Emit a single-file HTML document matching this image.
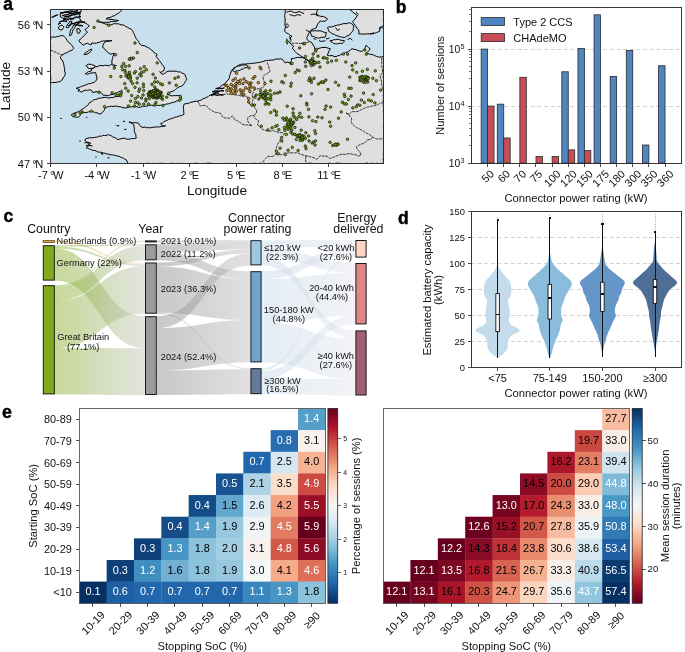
<!DOCTYPE html>
<html><head><meta charset="utf-8"><style>
html,body{margin:0;padding:0;background:#fff;width:685px;height:652px;overflow:hidden}
svg{display:block;will-change:transform}
text{font-family:"Liberation Sans", sans-serif}
line{shape-rendering:crispEdges}
.fr{shape-rendering:crispEdges}
</style></head><body>
<svg width="685" height="652" viewBox="0 0 685 652" font-family='"Liberation Sans", sans-serif'>
<defs>
<linearGradient id="gcy" x1="0" y1="0" x2="1" y2="0"><stop offset="0" stop-color="#7eaa1a"/><stop offset="1" stop-color="#c1c3ba"/></linearGradient>
<linearGradient id="gcyo" x1="0" y1="0" x2="1" y2="0"><stop offset="0" stop-color="#e0a030"/><stop offset="1" stop-color="#efe0c0"/></linearGradient>
<linearGradient id="gyc" x1="0" y1="0" x2="1" y2="0"><stop offset="0" stop-color="#858585"/><stop offset="1" stop-color="#bcbcbc"/></linearGradient>
<linearGradient id="gce" x1="0" y1="0" x2="1" y2="0"><stop offset="0" stop-color="#c3d7e9"/><stop offset="1" stop-color="#e2e4e9"/></linearGradient>
<linearGradient id="cb1" x1="0" y1="0" x2="0" y2="1"><stop offset="0" stop-color="#67001f"/><stop offset="0.05" stop-color="#8a0b25"/><stop offset="0.1" stop-color="#b1182b"/><stop offset="0.15" stop-color="#c43b3c"/><stop offset="0.2" stop-color="#d6604d"/><stop offset="0.25" stop-color="#e48066"/><stop offset="0.3" stop-color="#f3a481"/><stop offset="0.35" stop-color="#f8bfa4"/><stop offset="0.4" stop-color="#fddbc7"/><stop offset="0.45" stop-color="#fae9df"/><stop offset="0.5" stop-color="#f7f6f6"/><stop offset="0.55" stop-color="#e4eef4"/><stop offset="0.6" stop-color="#d1e5f0"/><stop offset="0.65" stop-color="#b1d5e7"/><stop offset="0.7" stop-color="#90c4dd"/><stop offset="0.75" stop-color="#6bacd1"/><stop offset="0.8" stop-color="#4393c3"/><stop offset="0.85" stop-color="#327cb7"/><stop offset="0.9" stop-color="#2065ab"/><stop offset="0.95" stop-color="#124984"/><stop offset="1" stop-color="#053061"/></linearGradient>
<linearGradient id="cb2" x1="0" y1="0" x2="0" y2="1"><stop offset="0" stop-color="#053061"/><stop offset="0.05" stop-color="#124984"/><stop offset="0.1" stop-color="#2065ab"/><stop offset="0.15" stop-color="#327cb7"/><stop offset="0.2" stop-color="#4393c3"/><stop offset="0.25" stop-color="#68abd0"/><stop offset="0.3" stop-color="#90c4dd"/><stop offset="0.35" stop-color="#b1d5e7"/><stop offset="0.4" stop-color="#d1e5f0"/><stop offset="0.45" stop-color="#e4eef4"/><stop offset="0.5" stop-color="#f6f7f7"/><stop offset="0.55" stop-color="#fae9df"/><stop offset="0.6" stop-color="#fddbc7"/><stop offset="0.65" stop-color="#f8bfa4"/><stop offset="0.7" stop-color="#f3a481"/><stop offset="0.75" stop-color="#e58368"/><stop offset="0.8" stop-color="#d6604d"/><stop offset="0.85" stop-color="#c43b3c"/><stop offset="0.9" stop-color="#b1182b"/><stop offset="0.95" stop-color="#8a0b25"/><stop offset="1" stop-color="#67001f"/></linearGradient>
</defs>
<rect width="685" height="652" fill="#fff"/>
<clipPath id="mapclip"><rect x="50.4" y="9.2" width="333.2" height="154.4"/></clipPath>
<g clip-path="url(#mapclip)">
<rect x="50.4" y="9.2" width="333.2" height="154.4" fill="#c8dfee"/>
<path d="M81.5,9.2 L83.12,9.16 L84.74,9.25 L86.36,9.58 L87.98,9.17 L89.6,9.21 L91.22,9.28 L92.84,8.92 L94.46,9.21 L96.08,9.32 L97.7,9.46 L99.32,8.83 L100.94,9.02 L102.56,8.83 L104.18,9.48 L105.8,9.37 L107.42,8.79 L109.04,9.63 L110.66,9.62 L112.28,9.34 L113.9,9.3 L115.52,8.89 L117.14,8.76 L118.76,9.23 L120.38,8.8 L122,9.2 L120.5,11.5 L119.15,12.73 L117.63,13.69 L116,14.5 L114.69,15.63 L113.01,16.03 L111.52,16.8 L110,17.5 L107.9,17.86 L106,18.8 L108,19.05 L109.99,19.39 L112,19.5 L113.63,19.75 L115.23,20.14 L116.88,20.21 L118.5,20.5 L116.8,21.19 L115,21.5 L113.19,21.31 L111.44,21.56 L109.71,21.95 L108,22.5 L106.21,22.17 L104.39,22.39 L102.58,22.32 L100.79,22.13 L99,21.8 L100.7,21.93 L102.09,23.03 L103.78,23.21 L105.24,24.1 L106.95,24.2 L108.5,24.8 L110.31,24.96 L112.04,24.61 L113.69,23.61 L115.5,23.8 L117.53,23.74 L119.5,24.2 L121.02,24.93 L122.71,24.91 L124.3,25.3 L125.6,26.63 L127.42,27.16 L128.9,28.2 L130.97,29.13 L132.6,30.7 L133.4,32.6 L134.4,34.4 L135.12,36.65 L136.3,38.7 L137.4,39.96 L138.46,41.24 L139.2,42.74 L140,44.2 L141.37,45.21 L142.96,45.66 L144.71,45.76 L146.1,46.7 L147.85,47.51 L149.55,48.39 L151,49.7 L152.69,50.63 L153.69,52.37 L155.3,53.4 L157.1,54.4 L155.9,56.5 L157.35,57.74 L158.33,59.4 L159.6,60.8 L160.84,62.57 L162,64.4 L163.48,66.09 L164.5,68.1 L163.9,70.6 L162.25,71.32 L160.8,72.4 L159.6,71.8 L161.04,72.82 L162,74.3 L164.5,73.6 L165.83,72.7 L167,71.6 L169.01,71.12 L171.06,71.26 L173.1,71.2 L174.95,71.09 L176.77,71.29 L178.54,72.07 L180.4,71.8 L181.89,73.06 L183.76,73.72 L185.3,74.9 L185.62,76.86 L186.6,78.6 L186.19,80.2 L185.3,81.6 L184.18,83.5 L182.9,85.3 L181.7,86.2 L179.74,86.55 L178,87.5 L176.67,88.4 L175.5,89.5 L173.87,90.77 L171.9,91.4 L170.04,92.02 L168.77,93.62 L167,94.4 L168.87,94.85 L170.6,95.7 L172.23,95.95 L173.87,95.55 L175.5,95.7 L177.14,95.58 L178.78,95.45 L180.4,95.9 L181.1,98.7 L179.74,99.96 L178,100.6 L176.34,101.13 L174.81,102.02 L173.1,102.4 L171.35,102.81 L169.69,103.51 L167.95,103.94 L166.1,104 L164.5,104.9 L162.47,105.11 L160.43,105.23 L158.4,105.5 L156.75,105.17 L155.1,105.79 L153.45,105.81 L151.8,105.13 L150.15,105.21 L148.5,105.5 L146.91,106.02 L145.28,106.37 L143.56,106.19 L141.9,106.31 L140.38,107.27 L138.7,107.3 L137.01,106.78 L135.28,106.72 L133.55,106.85 L131.82,106.89 L130.1,106.7 L128.14,107.45 L126.11,107.91 L124,107.9 L121.6,107.3 L120.07,106.5 L118.28,106.73 L116.7,106.1 L114.97,106.04 L113.28,106.56 L111.52,106.17 L109.81,106.49 L108.1,106.7 L106.62,107.52 L105,108 L104.36,109.93 L103.2,111.6 L101.86,112.66 L100.8,114 L98.83,113.77 L97.1,112.8 L95.41,112.64 L93.85,111.95 L92.2,111.6 L90.31,111.51 L88.49,111.95 L86.67,112.47 L84.8,112.5 L82.86,112.59 L81.1,113.4 L80.12,115.39 L78.7,117.1 L76.59,117.33 L74.55,116.91 L72.5,116.5 L71.3,114.7 L72.76,114.03 L74.11,113.1 L75.63,112.57 L77.17,112.11 L78.7,111.6 L80.37,110.62 L81.79,109.25 L83.6,108.5 L85.37,106.9 L87.3,105.5 L88.78,104.17 L89.7,102.4 L91.79,101.56 L93.4,100 L95.48,99.5 L97.52,98.9 L99.5,98.1 L101.26,98.09 L103,97.61 L104.75,97.42 L106.51,97.32 L108.3,98.04 L110.05,97.77 L111.8,97.5 L113.51,97.61 L114.99,96.48 L116.72,96.72 L118.33,96.28 L120,96.2 L121.6,95.7 L121.47,93.8 L122.12,91.91 L121.7,90 L120.43,91.23 L118.74,91.76 L117.3,92.7 L115.02,93.35 L112.9,94.4 L110.6,94.7 L108.5,95.7 L106.78,95.35 L105.05,95.25 L103.3,95.3 L102.32,93.95 L101.23,92.7 L99.8,91.8 L98.05,91.93 L96.3,91.8 L94.51,92.09 L92.8,92.7 L92.2,91.15 L91,90 L89.23,89.79 L87.51,90.32 L85.73,90.11 L84,90.5 L81.4,92.2 L79.76,91.24 L77.9,90.9 L79.6,89.6 L77.87,88.89 L76.1,88.3 L78.8,87.4 L80.36,86.96 L81.81,86.2 L83.4,85.82 L84.9,85.2 L86.68,84.74 L88.29,83.74 L90.19,83.67 L91.9,83 L93.84,82.55 L95.4,81.3 L96.55,79.91 L97.1,78.2 L96.3,75.6 L96.05,73.99 L95.4,72.5 L93.21,72.85 L91,73 L89.18,73.45 L87.5,74.3 L85.3,73.8 L86.89,72.76 L88.4,71.6 L91,71.2 L91.9,69 L93.62,67.85 L95.4,66.8 L97.23,66.64 L98.9,65.9 L100.86,65.43 L102.86,65.92 L104.8,65.18 L106.8,65.5 L109.4,65.9 L111.2,64 L112.44,65.17 L113.8,66.2 L116.4,65.5 L113.8,65.2 L111.8,63.2 L112,60.3 L112.43,58.55 L112.9,56.8 L113.58,54.94 L114.7,53.3 L112.46,53.58 L110.3,54.2 L108.55,52.85 L106.8,51.5 L105.41,49.96 L104.13,48.3 L102.4,47.1 L103.07,45.27 L103.74,43.44 L105,41.9 L106.72,41.4 L108.53,41.41 L110.2,40.66 L112,40.6 L110.27,40.98 L108.5,40.4 L106.77,40.7 L105.04,40.97 L103.3,41 L101.44,41.21 L99.85,42.25 L98.01,42.51 L96.3,43.2 L94.08,43.27 L91.9,42.8 L91,45 L89.22,44.16 L87.5,43.2 L85.91,43.69 L84.4,44.33 L83.1,45.4 L82.04,43.86 L80.5,42.8 L78.8,40.6 L80.03,39.42 L81.4,38.4 L82.62,37.29 L83.62,35.95 L84.9,34.9 L85.97,33.37 L87.5,32.3 L86.2,30.95 L84.9,29.6 L86.57,28.53 L88.04,27.23 L89.3,25.7 L87.63,24.5 L85.97,23.28 L84,22.6 L82.13,21.46 L80.5,20 L79.2,17.5 L79.34,15.73 L80.02,14.09 L80.5,12.4 L80.81,10.74 Z" fill="#dfdfdf" stroke="#000" stroke-width="1.0" stroke-linejoin="round"/>
<path d="M50.4,37.2 L52.7,36.94 L55,37.2 L56.81,36.67 L58.68,36.41 L60.47,35.84 L62.3,35.4 L64,36.2 L65.13,37.35 L66,38.7 L66.97,40.33 L68.07,41.85 L69.6,43 L70.83,44.44 L72.3,45.69 L73.2,47.4 L73.8,48.5 L72.13,50.1 L70,51 L68.39,51.42 L67.26,52.81 L65.54,52.99 L64.13,53.82 L62.7,54.6 L61.62,55.92 L60.3,57 L60.92,58.63 L62,60 L63.08,61.76 L63.64,63.69 L64,65.7 L64.28,67.41 L64.9,69.08 L64.43,70.9 L65.19,72.55 L65.2,74.3 L64.38,76.32 L63,78 L61.98,80.04 L60.3,81.6 L58.51,81.79 L56.77,82.25 L55,82.5 L52.69,82.53 L50.4,82.8 L50.54,81.17 L50.68,79.54 L50.81,77.91 L50.57,76.29 L50.13,74.66 L50.38,73.03 L50.11,71.4 L49.96,69.77 L50.37,68.14 L50.59,66.51 L50.11,64.89 L50.2,63.26 L50.26,61.63 L50.58,60 L50.42,58.37 L50.5,56.74 L50.63,55.11 L50.3,53.49 L50.66,51.86 L50.77,50.23 L50.03,48.6 L50.79,46.97 L50.6,45.34 L50.07,43.71 L50.36,42.09 L50.51,40.46 L50.77,38.83 Z" fill="#dfdfdf" stroke="#000" stroke-width="1.0" stroke-linejoin="round"/>
<path d="M128,163.6 L127.15,161.84 L126.5,160 L124.89,159.14 L123.38,158.09 L121.6,157.6 L119.86,156.75 L118.07,156.02 L116.11,155.83 L114.3,155.2 L112.47,154.77 L110.56,154.86 L108.78,154.1 L106.9,154 L105.12,153.25 L103.23,152.93 L101.4,152.39 L99.5,152.1 L97.61,151.9 L95.94,150.85 L94.13,150.33 L92.2,150.3 L90.81,149.28 L89.11,149.02 L87.65,148.18 L86,147.8 L87.76,146.42 L89.7,145.3 L88.76,143.84 L87.3,142.9 L86.28,141.42 L84.8,140.4 L86,138.6 L87.7,138.22 L89.39,137.75 L91.15,137.83 L92.89,137.68 L94.6,137.4 L96.28,137.32 L97.86,136.76 L99.42,136.03 L101.19,136.41 L102.69,135.43 L104.4,135.5 L106.07,135.57 L107.63,134.81 L109.3,134.9 L111.03,135.6 L112.52,136.8 L114.3,137.4 L116.33,138.33 L118,139.8 L119.94,138.9 L122.07,138.61 L124.1,138 L126.5,139.2 L128.16,139.2 L129.8,139.1 L131.4,138.6 L133.05,138.57 L134.72,138.6 L136.3,138 L135.86,136.37 L135.82,134.63 L135,133.1 L134.39,131.43 L134.27,129.69 L134.3,127.94 L133.85,126.25 L133.8,124.5 L132.26,123.48 L130.59,122.72 L128.9,122 L130.53,122.24 L132.13,122.74 L133.79,122.7 L135.46,122.7 L137.08,122.98 L138.7,123.3 L139.69,125.28 L141.2,126.9 L142.99,127.43 L144.88,126.99 L146.64,127.74 L148.5,127.6 L150.38,127.9 L152.2,127.39 L154.05,127.32 L155.88,126.86 L157.75,127.05 L159.6,126.9 L161.63,126.5 L163.68,126.19 L165.7,125.7 L163.85,126.13 L162,125.7 L160.8,123.3 L162.47,122.94 L163.77,121.83 L165.2,121 L166.84,120.58 L168.2,119.6 L169.85,119.14 L171.46,118.56 L173.15,118.21 L174.62,117.16 L176.38,117.05 L178,116.5 L179.5,115.83 L181.2,115.68 L182.71,115.05 L184.1,114.1 L183.69,112.26 L183.68,110.37 L183.5,108.5 L183.47,106.3 L184.1,104.2 L185.63,103.69 L187.28,103.57 L188.85,103.2 L190.3,102.4 L192.12,102.08 L193.92,101.64 L195.73,101.23 L197.6,101.2 L199.24,100.67 L200.94,100.31 L202.28,99.01 L204,98.7 L206.1,97.5 L207.76,96.95 L209.01,95.57 L210.63,94.93 L212.3,94.4 L213.81,93.19 L215.65,92.54 L217.2,91.4 L218.27,89.46 L219.6,87.7 L221,86 L222.53,84.83 L224.26,83.96 L225.8,82.8 L227.03,80.77 L228.8,79.2 L229.47,77.71 L229.43,76 L230.23,74.55 L230.7,73 L231.4,71.05 L232.5,69.3 L233.78,68.08 L235.38,67.32 L236.8,66.3 L238.62,65.3 L240.5,64.4 L242.21,64.17 L243.93,64.08 L245.66,64.07 L247.36,63.61 L249.1,63.8 L250.78,63.3 L252.56,63.44 L254.28,63.2 L255.98,62.87 L257.7,62.6 L259.6,62.46 L261.37,61.8 L263.25,61.56 L265,60.8 L266.63,60.33 L268.36,60.55 L270,60.1 L271.84,60.13 L273.65,59.96 L275.38,59.19 L277.18,58.94 L279.05,59.23 L280.8,58.6 L283.4,60.4 L285.1,63 L287,62 L289.5,62.5 L290.4,64.5 L290.45,62.5 L291.44,60.63 L291.3,58.6 L293.51,58.54 L295.6,57.8 L297.36,57.4 L299.14,57.42 L300.93,57.78 L302.7,57.5 L304.47,58.47 L306,59.8 L307.67,60.24 L308.86,61.6 L310.5,62.1 L308.79,60.99 L307.32,59.55 L305.5,58.6 L303.58,57.89 L302,56.6 L300.42,55.74 L299.02,54.59 L297.4,53.8 L295.2,51.6 L293.9,49.9 L292.1,48.1 L293.9,46.4 L291.3,44.6 L289.5,42 L291.3,40.3 L290,38 L292,36.2 L289.91,35.36 L288.3,33.8 L286.3,32.77 L284.6,31.3 L284.88,29.59 L285.21,27.89 L285.38,26.17 L284.73,24.4 L285.2,22.7 L285.06,20.87 L285.13,19.03 L284.75,17.22 L284.6,15.4 L285.16,13.37 L285.13,11.21 L285.8,9.2 L287.48,8.81 L289.16,8.85 L290.84,8.78 L292.52,9.25 L294.19,9.21 L295.87,9.26 L297.55,8.88 L299.23,8.92 L300.91,8.93 L302.59,9.51 L304.27,9.64 L305.95,9.58 L307.63,8.84 L309.31,8.81 L310.98,9.61 L312.66,9.17 L314.34,9.44 L316.02,9.04 L317.7,9.2 L317.13,11.06 L316.5,12.9 L316.5,15.4 L318.2,15.77 L319.91,16.06 L321.58,16.57 L323.39,16.41 L325,17.2 L327.5,19 L326.12,20.12 L325,21.5 L323.44,20.99 L321.76,21.38 L320.2,20.9 L318.98,22.48 L317.7,24 L316.9,25.73 L316.5,27.6 L314.9,28.31 L313.33,29.12 L311.6,29.5 L310.58,31.19 L309.1,32.5 L308.29,34.13 L307.89,35.96 L306.7,37.4 L306.97,39.08 L307.9,40.5 L309.63,41.69 L311.6,42.4 L313,45 L314.5,47 L314.77,48.84 L315.4,50.6 L316.9,49.8 L318,48.5 L320.03,48.11 L322,47.5 L324,47.41 L326,47.5 L328.18,48.19 L330.4,48.7 L329,51 L328.15,53.15 L327.3,55.3 L329.63,55.83 L332,55.5 L333.92,56.36 L336,56.7 L337.58,55.77 L339.48,55.57 L341,54.5 L342.62,54 L344.17,53.33 L345.6,52.4 L347.41,51.96 L349,51 L350.5,49.78 L352.1,48.7 L353.98,49.45 L356,49.5 L357.68,50.49 L359.54,51 L361.4,51.5 L362.85,50.69 L364,49.5 L365.21,47.55 L366,45.4 L367.39,46.4 L368.54,47.69 L370,48.6 L369.32,50.27 L368,51.5 L366,53.3 L367.7,53.56 L369.34,54.07 L371,54.5 L372.91,54.68 L374.58,55.58 L376.3,56.3 L377.82,56.82 L379.4,57.1 L381.52,56.91 L383.6,56.5 L383.84,58.12 L383.2,59.75 L383.45,61.37 L383.75,62.99 L383.46,64.61 L383.54,66.24 L383.57,67.86 L383.7,69.48 L383.15,71.1 L383.47,72.73 L383.42,74.35 L383.36,75.97 L383.17,77.6 L384.03,79.22 L383.5,80.84 L383.39,82.46 L383.82,84.09 L383.69,85.71 L384,87.33 L383.87,88.95 L383.71,90.58 L383.96,92.2 L383.82,93.82 L383.23,95.45 L383.55,97.07 L383.59,98.69 L383.18,100.31 L383.54,101.94 L383.15,103.56 L383.48,105.18 L383.32,106.8 L383.98,108.43 L383.51,110.05 L383.37,111.67 L384.01,113.3 L383.21,114.92 L383.91,116.54 L383.63,118.16 L383.9,119.79 L383.6,121.41 L383.5,123.03 L384,124.65 L383.2,126.28 L383.67,127.9 L383.58,129.52 L383.51,131.15 L383.72,132.77 L383.79,134.39 L383.46,136.01 L383.55,137.64 L383.79,139.26 L383.41,140.88 L383.78,142.5 L384.04,144.13 L383.83,145.75 L384.01,147.37 L383.91,149 L383.37,150.62 L383.7,152.24 L383.24,153.86 L383.38,155.49 L384,157.11 L383.16,158.73 L383.2,160.35 L383.98,161.98 L383.6,163.6 L381.99,163.24 L380.38,163.66 L378.78,163.62 L377.17,163.17 L375.56,163.83 L373.95,163.58 L372.35,163.21 L370.74,163.4 L369.13,163.63 L367.52,163.17 L365.92,163.31 L364.31,163.51 L362.7,163.95 L361.09,163.49 L359.49,163.64 L357.88,163.87 L356.27,164 L354.66,163.57 L353.06,163.94 L351.45,163.65 L349.84,163.45 L348.23,163.64 L346.63,163.81 L345.02,163.53 L343.41,163.67 L341.8,163.35 L340.2,163.57 L338.59,163.15 L336.98,163.19 L335.37,163.39 L333.77,163.84 L332.16,163.95 L330.55,163.25 L328.94,163.34 L327.34,163.49 L325.73,163.73 L324.12,163.81 L322.51,163.43 L320.91,163.54 L319.3,163.52 L317.69,163.48 L316.08,163.37 L314.48,163.88 L312.87,163.83 L311.26,163.17 L309.65,163.23 L308.05,163.26 L306.44,164.01 L304.83,164 L303.22,163.81 L301.62,163.67 L300.01,163.49 L298.4,163.96 L296.79,163.56 L295.18,163.98 L293.58,163.97 L291.97,163.44 L290.36,163.55 L288.75,163.48 L287.15,163.71 L285.54,163.62 L283.93,163.86 L282.32,163.74 L280.72,163.38 L279.11,163.3 L277.5,163.98 L275.89,163.94 L274.29,163.32 L272.68,163.49 L271.07,163.36 L269.46,163.86 L267.86,163.67 L266.25,163.82 L264.64,163.32 L263.03,163.72 L261.43,163.46 L259.82,163.16 L258.21,163.76 L256.6,163.56 L255,163.38 L253.39,163.22 L251.78,163.67 L250.17,163.72 L248.57,163.96 L246.96,163.26 L245.35,163.98 L243.74,163.98 L242.14,163.54 L240.53,163.61 L238.92,163.43 L237.31,163.78 L235.71,163.35 L234.1,163.98 L232.49,163.86 L230.88,163.45 L229.28,163.98 L227.67,163.78 L226.06,163.4 L224.45,163.43 L222.85,163.8 L221.24,163.92 L219.63,163.73 L218.02,163.4 L216.42,163.72 L214.81,163.94 L213.2,163.41 L211.59,163.54 L209.98,163.22 L208.38,163.2 L206.77,163.23 L205.16,163.66 L203.55,163.33 L201.95,163.78 L200.34,163.76 L198.73,163.69 L197.12,163.21 L195.52,163.24 L193.91,163.83 L192.3,163.72 L190.69,163.72 L189.09,163.72 L187.48,163.69 L185.87,163.7 L184.26,163.87 L182.66,163.54 L181.05,163.33 L179.44,163.56 L177.83,163.3 L176.23,163.54 L174.62,163.89 L173.01,163.37 L171.4,163.26 L169.8,163.8 L168.19,164.03 L166.58,163.59 L164.97,163.56 L163.37,163.54 L161.76,163.18 L160.15,163.46 L158.54,163.33 L156.94,163.99 L155.33,163.56 L153.72,163.34 L152.11,163.97 L150.51,163.98 L148.9,163.39 L147.29,163.24 L145.68,163.97 L144.08,163.48 L142.47,163.92 L140.86,163.38 L139.25,163.47 L137.65,163.83 L136.04,163.85 L134.43,163.36 L132.82,163.58 L131.22,163.36 L129.61,163.7 Z" fill="#dfdfdf" stroke="#000" stroke-width="1.0" stroke-linejoin="round"/>
<path d="M349,9.2 L350.88,10.33 L352.6,11.7 L353.98,13.27 L355.77,14.29 L357.5,15.4 L356.3,17.2 L355.1,19 L353.83,20.23 L352.6,21.5 L353.69,23.46 L355.1,25.2 L356.18,26.95 L357.27,28.69 L358.8,30.1 L358.88,31.95 L358.8,33.8 L360.5,34.09 L362.2,33.95 L363.9,34.12 L365.6,34.08 L367.3,33.8 L369.17,33.95 L371.03,33.85 L372.88,33.76 L374.7,33.2 L376.38,32.68 L377.97,31.95 L379.6,31.3 L379.79,29.45 L379.6,27.6 L381.74,26.63 L383.6,25.2 L383.53,23.6 L383.53,22 L383.28,20.4 L383.82,18.8 L384.04,17.2 L383.49,15.6 L383.3,14 L383.33,12.4 L383.53,10.8 L383.6,9.2 L381.95,9.39 L380.3,8.78 L378.66,9.6 L377.01,9.37 L375.36,9.55 L373.71,9.07 L372.07,8.95 L370.42,9.49 L368.77,9.59 L367.12,9.24 L365.48,9.12 L363.83,8.83 L362.18,9.62 L360.53,9.55 L358.89,9.48 L357.24,9.45 L355.59,9.44 L353.94,9 L352.3,9.11 L350.65,9.45 Z" fill="#dfdfdf" stroke="#000" stroke-width="1.0" stroke-linejoin="round"/>
<path d="M310.4,31.3 L312.1,30.9 L313.83,30.86 L315.54,30.65 L317.3,31.05 L319,30.7 L320.87,30.99 L322.64,31.64 L324.41,32.33 L326.3,32.5 L325.88,34.14 L325.64,35.82 L325,37.4 L323.14,37.23 L321.31,37.38 L319.54,38.07 L317.7,38.1 L315.68,37.43 L313.76,36.44 L311.6,36.2 L311.18,34.57 L310.56,32.99 Z" fill="#dfdfdf" stroke="#000" stroke-width="1.0" stroke-linejoin="round"/>
<path d="M327.5,27.6 L329.25,26.76 L331.3,27.09 L333.11,26.51 L334.9,25.8 L336.73,25.25 L338.61,24.92 L340.45,24.46 L342.3,24 L344.09,23.48 L346.03,23.78 L347.8,23.16 L349.6,22.7 L351.58,23.75 L353.3,25.2 L353.74,26.83 L353.32,28.47 L353.3,30.1 L352.16,31.8 L350.62,33.21 L349.6,35 L347.88,35.63 L346.29,36.51 L344.7,37.4 L342.61,37.3 L340.57,36.9 L338.6,36.2 L336.99,35.75 L335.42,35.2 L334.07,34.09 L332.4,33.8 L330.61,32.54 L328.8,31.3 L328.27,29.41 Z" fill="#dfdfdf" stroke="#000" stroke-width="1.0" stroke-linejoin="round"/>
<path d="M330,40.5 L331.9,40.64 L333.62,39.69 L335.48,39.63 L337.3,39.3 L339.22,39.44 L340.94,40.44 L342.96,40.21 L344.7,41.1 L343.29,42.15 L342.3,43.6 L340.58,43.29 L338.86,43.31 L337.14,43.98 L335.42,43.81 L333.7,43.6 L332.59,42.42 L331,41.81 Z" fill="#dfdfdf" stroke="#000" stroke-width="1.0" stroke-linejoin="round"/>
<path d="M69.5,35.5 L69.82,33.66 L70.14,31.83 L70.5,30 L72.1,28.22 L73,26 L74.31,24.3 L75.5,22.5 L77.34,22.31 L79,21.5 L80.5,20.5 L79.65,22.1 L78.5,23.5 L77,23.8 L75.78,25.26 L75,27 L74.23,28.54 L73.01,29.82 L72.5,31.5 L71.83,33.81 L70.5,35.8 Z" fill="#dfdfdf" stroke="#000" stroke-width="1.0" stroke-linejoin="round"/>
<path d="M76.5,29 L79,28.5 L80.5,31 L79,33.5 L77,32.5 L77.04,30.71 Z" fill="#dfdfdf" stroke="#000" stroke-width="1.0" stroke-linejoin="round"/>
<path d="M58.5,27 L60.12,25.77 L62,25 L64,27 L62.97,28.48 L62,30 L59,29.5 Z" fill="#dfdfdf" stroke="#000" stroke-width="1.0" stroke-linejoin="round"/>
<path d="M66,27 L67.02,25.51 L67.74,23.83 L69.25,22.67 L70,21 L72,21.5 L71.14,23.21 L70.15,24.84 L69.32,26.57 L68,28 Z" fill="#dfdfdf" stroke="#000" stroke-width="1.0" stroke-linejoin="round"/>
<path d="M60,14 L61.93,12.99 L64,12.3 L65.67,12.34 L67.33,12.63 L69,12.5 L70.57,13.39 L72,14.5 L70.38,15.88 L69,17.5 L67.4,18.18 L65.69,18.26 L64,18.5 L62.24,17.78 L60.5,17 Z" fill="#dfdfdf" stroke="#000" stroke-width="1.0" stroke-linejoin="round"/>
<path d="M68,9.2 L69.69,9.62 L71.38,9.5 L73.06,9.34 L74.75,8.76 L76.44,9.09 L78.12,9.39 L79.81,8.96 L81.5,9.2 L80.94,10.78 L80.5,12.4 L78.25,12.24 L76,12 L74.25,12.1 L72.75,10.9 L71,11 L69.64,9.87 Z" fill="#dfdfdf" stroke="#000" stroke-width="1.0" stroke-linejoin="round"/>
<path d="M84,54.6 L85.06,53.12 L86.5,52 L88.31,50.89 L90,49.6 L91.9,49.3 L90.5,51.8 L88.86,53.16 L87,54.2 Z" fill="#dfdfdf" stroke="#000" stroke-width="1.0" stroke-linejoin="round"/>
<path d="M86.2,65.5 L88.5,64.2 L91.5,64.4 L93.5,65.2 L95.4,66.2 L93,68.3 L91,68.41 L89,68.6 L87,67 Z" fill="#dfdfdf" stroke="#000" stroke-width="1.0" stroke-linejoin="round"/>
<path d="M232.5,70.6 L233.8,69.04 L235.26,67.63 L236.8,66.3 L238.42,65.92 L240.09,65.88 L241.66,65.23 L243.29,64.9 L245,65.09 L246.6,64.6 L247.9,66.9 L246.48,67.66 L244.79,67.77 L243.44,68.71 L241.9,69.19 L240.5,70 L238.51,70.75 L236.35,70.92 L234.4,71.8 Z" fill="#c8dfee" stroke="#000" stroke-width="1.0" stroke-linejoin="round"/>
<path d="M197.6,101.2 L199.06,103.47 L200,106 L202.01,105.58 L204.04,105.38 L206.1,105.5 L208.6,108.5 L210.57,109.84 L212.59,111.09 L214.7,112.2 L216.81,112.38 L218.85,112.93 L220.9,113.4 L221.89,115.66 L223.3,117.7 L225.33,118 L227.4,117.88 L229.4,118.4 L232.5,115.9 L233.62,117.66 L234.4,119.6 L236.31,120.29 L238.12,121.16 L239.8,122.3 L243,124.7 L245.17,124.9 L247.37,124.94 L249.5,125.5 L251.9,125.5" fill="none" stroke="#000" stroke-width="0.75" stroke-linejoin="round" stroke-dasharray="3,0.8"/>
<path d="M251.9,125.5 L249.5,123.9 L247.4,120.7 L247.9,117.5 L251.1,115.5 L253.5,115.5 L255.1,118.3 L256.74,119.74 L258.7,120.7 L258.15,122.71 L257.5,124.7 L259.1,125.9" fill="none" stroke="#000" stroke-width="0.75" stroke-linejoin="round" stroke-dasharray="3,0.8"/>
<path d="M253.5,115.5 L256.3,113.5 L256.7,110.3 L255.11,108.25 L253.5,106.2 L251.5,105.5 L249.1,103.6 L248.6,101.13 L247.9,98.7 L246.6,96.3 L244.15,96.11 L241.7,96.3 L239.31,95.43 L236.8,95 L234.34,94.78 L231.9,94.4 L229.86,94.32 L227.83,94.06 L225.8,93.8 L223.43,94.73 L220.9,95" fill="none" stroke="#000" stroke-width="0.75" stroke-linejoin="round" stroke-dasharray="3,0.8"/>
<path d="M251.5,105.5 L252.18,102.73 L253,100 L252.64,97.47 L252,95 L253.31,92.63 L254,90 L256.07,89.44 L258,88.5 L260.32,88.26 L262.6,87.8 L263.86,85.99 L265,84.1 L263.8,80.4 L262.6,76.7 L264.26,75.19 L266.23,74.15 L268.09,72.93 L270,71.8 L269.67,69.74 L268.86,67.79 L268.7,65.7 L267.77,63.89 L267,62" fill="none" stroke="#000" stroke-width="0.75" stroke-linejoin="round" stroke-dasharray="3,0.8"/>
<path d="M259.1,125.9 L261.5,128.7 L264.7,130.3 L266.7,130.71 L268.7,131.1 L271.17,131.1 L273.6,130.7 L276.8,131.9 L278.9,132.43 L281.06,132.58 L283.2,132.8 L284.5,133.3 L283.5,135.3 L281.94,136.93 L280.9,138.9 L279.56,140.55 L278.7,142.5 L277.57,144.68 L276.5,146.9 L275.8,150.5 L275.8,154.2 L272.8,156.4 L270.25,156.5 L267.7,156.4 L265.5,158.6 L264.05,160.4 L262.6,162.2 L261.8,163.6" fill="none" stroke="#000" stroke-width="0.75" stroke-linejoin="round" stroke-dasharray="3,0.8"/>
<path d="M275.8,154.2 L278.73,154.3 L281.6,154.9 L283.43,153.93 L285.1,152.7 L287.4,153.04 L289.7,152.71 L292,152.85 L294.3,152.93 L296.6,152.7 L298.97,153.27 L301.1,154.55 L303.47,155.11 L305.8,155.8 L308.45,156.19 L311,157 L313.1,157.49 L315.06,158.37 L317,159.3 L318.54,157.58 L320,155.8 L322.39,156.1 L324.81,156.01 L327.2,156.3 L329.3,158.3 L331.42,158.09 L333.4,157.3 L335.56,156.34 L337.79,155.54 L340,154.7 L342.4,154.14 L344.91,154.43 L347.3,153.8 L349.61,153.65 L351.9,154 L354.09,154.73 L356.4,154.9 L358.2,156.2 L360.9,155.3 L360,152.1 L357.3,149.4 L356.4,146.7 L358.22,145.63 L360,144.5 L362.26,143.84 L364.5,143.1 L365.88,141.53 L367.2,139.9 L370.9,139.5 L372.7,136.8" fill="none" stroke="#000" stroke-width="0.75" stroke-linejoin="round" stroke-dasharray="3,0.8"/>
<path d="M305.8,155.8 L305.76,157.92 L305.4,160 L306.7,163.6" fill="none" stroke="#000" stroke-width="0.75" stroke-linejoin="round" stroke-dasharray="3,0.8"/>
<path d="M346,113.1 L349.1,114.4 L350.26,116.85 L351.9,119 L351,121.7 L352.53,124.17 L354.6,126.2 L356.59,127.59 L358.76,128.66 L360.9,129.8 L363.13,130.77 L364.99,132.4 L367.2,133.4 L369.58,134.67 L371.8,136.2 L372.7,136.8 L374.36,138.14 L376.3,139 L378.55,138.82 L380.8,139 L383.6,138.6" fill="none" stroke="#000" stroke-width="0.75" stroke-linejoin="round" stroke-dasharray="3,0.8"/>
<path d="M346,113.1 L349.1,114.4 L351.9,111.7 L354,111.62 L356.11,111.66 L358.2,111.3 L360.2,110.04 L362.42,109.2 L364.5,108.1 L367.18,107.11 L370,106.7 L372.19,105.93 L374.5,105.8 L378.1,104.5 L379.8,103.4 L381.7,102.7 L383.6,101.5" fill="none" stroke="#000" stroke-width="0.75" stroke-linejoin="round" stroke-dasharray="3,0.8"/>
<path d="M381.8,57.5 L381.46,60.35 L381.8,63.2 L381.69,65.63 L382.09,68.01 L382.53,70.39 L382.6,72.8 L381.3,74.33 L380.2,76 L380.47,78.04 L381.15,79.98 L381.5,82 L381.8,84.24 L382.02,86.5 L382.6,88.7 L383.27,90.75 L383.47,92.87 L383.6,95" fill="none" stroke="#000" stroke-width="0.75" stroke-linejoin="round" stroke-dasharray="3,0.8"/>
<path d="M291.5,43.2 L293.63,43.25 L295.76,43.1 L297.88,43.35 L300,43.5 L302.01,43.32 L303.97,42.81 L306,42.8 L308.5,42.2" fill="none" stroke="#000" stroke-width="0.75" stroke-linejoin="round" stroke-dasharray="3,0.8"/>
<path d="M50.4,49.7 L52.69,50.86 L55,52 L57.72,53.15 L60.3,54.6 L62.7,54.6" fill="none" stroke="#000" stroke-width="0.75" stroke-linejoin="round" stroke-dasharray="3,0.8"/>
<path d="M211,95.6 L214,94.4 L217,95.3 L220,94.6 L223.5,95" fill="none" stroke="#000" stroke-width="1.3" stroke-linejoin="round" />
<path d="M212.2,92 L215,90.8 L218,91.6 L221,90.6 L224,91" fill="none" stroke="#000" stroke-width="1.3" stroke-linejoin="round" />
<path d="M215.5,88.8 L218.5,87.8 L221.5,88.6 L224.5,87.9" fill="none" stroke="#000" stroke-width="1.3" stroke-linejoin="round" />
<path d="M213,93.3 L216,93 L219,93.1" fill="none" stroke="#000" stroke-width="1.3" stroke-linejoin="round" />
<path d="M84.5,143 L88,142.3 L91,143.6" fill="none" stroke="#000" stroke-width="1.1" stroke-linejoin="round" />
<path d="M86,145.8 L89,145 L92.5,146.2" fill="none" stroke="#000" stroke-width="1.1" stroke-linejoin="round" />
<path d="M101,153 L103,154.5" fill="none" stroke="#000" stroke-width="1.1" stroke-linejoin="round" />
<path d="M286.5,12.2 L288.27,11.66 L290,11 L291.55,11.34 L293,12 L294.46,12.54 L296,12.8 L297.87,11.76 L300,11.6 L301.92,12.75 L304,13.6" fill="none" stroke="#000" stroke-width="1.0" stroke-linejoin="round" />
<path d="M289.5,14.8 L291.59,14.96 L293.5,15.8 L295.12,15.84 L296.53,15.1 L298,14.6 L299.51,15.02 L301,15.5" fill="none" stroke="#000" stroke-width="1.0" stroke-linejoin="round" />
<path d="M310.6,14.6 L312.79,14.21 L315,14 L316.72,14.62 L318.5,15" fill="none" stroke="#000" stroke-width="1.0" stroke-linejoin="round" />
<path d="M306,30 L307.68,30.92 L309.5,31.5" fill="none" stroke="#000" stroke-width="1.0" stroke-linejoin="round" />
<path d="M286.8,38.5 L286.95,40.07 L287.6,41.5 L287.15,42.97 L287.2,44.5" fill="none" stroke="#000" stroke-width="1.0" stroke-linejoin="round" />
<path d="M289.5,36.5 L290.01,38 L290.5,39.5" fill="none" stroke="#000" stroke-width="1.0" stroke-linejoin="round" />
<path d="M319,40.5 L320.39,41.33 L322,41.2 L323.81,41.23 L325.5,40.6" fill="none" stroke="#000" stroke-width="1.0" stroke-linejoin="round" />
<path d="M326,38.8 L327.85,38.64 L329.5,37.8" fill="none" stroke="#000" stroke-width="1.0" stroke-linejoin="round" />
<path d="M335.5,27.5 L336.58,28.95 L337.5,30.5 L340,29" fill="none" stroke="#000" stroke-width="1.0" stroke-linejoin="round" />
<path d="M347.5,39.5 L348.98,38.84 L350.5,38.3 L352.3,40.3" fill="none" stroke="#000" stroke-width="1.0" stroke-linejoin="round" />
<path d="M313.5,38.5 L316,39.5" fill="none" stroke="#000" stroke-width="1.0" stroke-linejoin="round" />
<path d="M356,12 L357.2,13.3 L358.5,14.5" fill="none" stroke="#000" stroke-width="1.0" stroke-linejoin="round" />
<path d="M379,29 L381.5,27.5 L383.5,28.5" fill="none" stroke="#000" stroke-width="1.0" stroke-linejoin="round" />
<path d="M370,33.8 L372.13,33.54 L374,32.5" fill="none" stroke="#000" stroke-width="1.0" stroke-linejoin="round" />
<ellipse cx="287" cy="25.7" rx="1.3" ry="1.9" fill="#c8dfee" stroke="#000" stroke-width="0.8"/>
<path d="M51.5,17.5 L53.26,16.68 L55,15.8 L56.51,15.23 L58,14.6" fill="none" stroke="#000" stroke-width="1.3" stroke-linejoin="round" />
<path d="M60,13 L61.49,12.67 L63.08,12.98 L64.46,12.04 L66,12 L67.71,11.34 L69.52,12.02 L71.28,12.1 L73,11.5 L74.72,11.44 L76.36,10.95 L78,10.5" fill="none" stroke="#000" stroke-width="1.3" stroke-linejoin="round" />
<path d="M62,15.5 L63.55,15.55 L64.96,14.77 L66.52,14.86 L68,14.5 L69.64,13.62 L71.41,13.31 L73.24,13.31 L75,13 L76.67,12.84 L78.32,12.54 L80,12.5" fill="none" stroke="#000" stroke-width="1.3" stroke-linejoin="round" />
<path d="M64,17.2 L65.47,16.28 L67.26,16.63 L68.81,16.03 L70.32,15.3 L72,15.2 L73.57,14.73 L75.18,14.6 L76.75,14.17 L78.32,13.73 L80,14" fill="none" stroke="#000" stroke-width="1.3" stroke-linejoin="round" />
<path d="M70,19 L71.66,18.97 L73.18,18.53 L74.56,17.69 L76,17 L77.71,17.27 L79.32,16.57 L81,16.5" fill="none" stroke="#000" stroke-width="1.3" stroke-linejoin="round" />
<path d="M66,20 L68.13,19.59 L70,18.5 L72.02,18.32 L74,18.8" fill="none" stroke="#000" stroke-width="1.3" stroke-linejoin="round" />
<path d="M68,26 L69.49,25.42 L70.71,24.4 L72,23.5 L73.58,23.73 L75,23 L76.62,22.35 L78.37,23.02 L80,22.5 L81.6,21.82 L83.34,22.08 L85,21.8" fill="none" stroke="#000" stroke-width="1.3" stroke-linejoin="round" />
<path d="M74,24.5 L75.56,25.36 L77.45,24.58 L79,25.5 L81.04,25.45 L83,26" fill="none" stroke="#000" stroke-width="1.3" stroke-linejoin="round" />
<path d="M59,22 L60.94,21.27 L63,21 L65.03,21.04 L67,21.5" fill="none" stroke="#000" stroke-width="1.3" stroke-linejoin="round" />
<path d="M58,24.5 L59.29,23.37 L61,23.2" fill="none" stroke="#000" stroke-width="1.3" stroke-linejoin="round" />
<path d="M63,19.5 L64.58,19.72 L66,19" fill="none" stroke="#000" stroke-width="1.3" stroke-linejoin="round" />
<ellipse cx="118" cy="125.7" rx="1.4" ry="0.8" fill="#111"/>
<ellipse cx="124" cy="121.4" rx="1.2" ry="0.7" fill="#111"/>
<ellipse cx="125.3" cy="129.4" rx="1.2" ry="0.7" fill="#111"/>
<ellipse cx="61" cy="118.4" rx="0.8" ry="0.6" fill="#111"/>
<ellipse cx="80" cy="141" rx="1.2" ry="0.6" fill="#111"/>
<ellipse cx="86.6" cy="117.2" rx="0.9" ry="0.5" fill="#111"/>
<ellipse cx="108.5" cy="157.8" rx="1.3" ry="0.6" fill="#111"/>
<ellipse cx="115.5" cy="125.1" rx="0.6" ry="0.4" fill="#111"/>
<ellipse cx="96" cy="157" rx="0.8" ry="0.5" fill="#111"/>
<g><circle cx="97.9" cy="21.1" r="1.25" fill="#78b40a" stroke="#111" stroke-width="0.75"/><circle cx="94.1" cy="27.5" r="1.25" fill="#78b40a" stroke="#111" stroke-width="0.75"/><circle cx="108.7" cy="25.3" r="1.25" fill="#78b40a" stroke="#111" stroke-width="0.75"/><circle cx="135.0" cy="43.0" r="1.25" fill="#78b40a" stroke="#111" stroke-width="0.75"/><circle cx="137.3" cy="52.6" r="1.25" fill="#78b40a" stroke="#111" stroke-width="0.75"/><circle cx="115.5" cy="54.7" r="1.25" fill="#78b40a" stroke="#111" stroke-width="0.75"/><circle cx="130.9" cy="58.4" r="1.25" fill="#78b40a" stroke="#111" stroke-width="0.75"/><circle cx="133.4" cy="58.0" r="1.25" fill="#78b40a" stroke="#111" stroke-width="0.75"/><circle cx="157.2" cy="62.9" r="1.25" fill="#78b40a" stroke="#111" stroke-width="0.75"/><circle cx="123.6" cy="63.5" r="1.25" fill="#78b40a" stroke="#111" stroke-width="0.75"/><circle cx="121.8" cy="66.4" r="1.25" fill="#78b40a" stroke="#111" stroke-width="0.75"/><circle cx="125.6" cy="66.4" r="1.25" fill="#78b40a" stroke="#111" stroke-width="0.75"/><circle cx="129.2" cy="65.8" r="1.25" fill="#78b40a" stroke="#111" stroke-width="0.75"/><circle cx="114.3" cy="68.1" r="1.25" fill="#78b40a" stroke="#111" stroke-width="0.75"/><circle cx="122.5" cy="69.7" r="1.25" fill="#78b40a" stroke="#111" stroke-width="0.75"/><circle cx="125.0" cy="70.5" r="1.25" fill="#78b40a" stroke="#111" stroke-width="0.75"/><circle cx="125.4" cy="72.5" r="1.25" fill="#78b40a" stroke="#111" stroke-width="0.75"/><circle cx="129.5" cy="72.2" r="1.25" fill="#78b40a" stroke="#111" stroke-width="0.75"/><circle cx="140.5" cy="68.7" r="1.25" fill="#78b40a" stroke="#111" stroke-width="0.75"/><circle cx="144.3" cy="66.7" r="1.25" fill="#78b40a" stroke="#111" stroke-width="0.75"/><circle cx="146.4" cy="69.7" r="1.25" fill="#78b40a" stroke="#111" stroke-width="0.75"/><circle cx="143.7" cy="71.6" r="1.25" fill="#78b40a" stroke="#111" stroke-width="0.75"/><circle cx="141.4" cy="72.8" r="1.25" fill="#78b40a" stroke="#111" stroke-width="0.75"/><circle cx="135.5" cy="71.6" r="1.25" fill="#78b40a" stroke="#111" stroke-width="0.75"/><circle cx="134.4" cy="73.0" r="1.25" fill="#78b40a" stroke="#111" stroke-width="0.75"/><circle cx="153.1" cy="74.3" r="1.25" fill="#78b40a" stroke="#111" stroke-width="0.75"/><circle cx="120.9" cy="76.5" r="1.25" fill="#78b40a" stroke="#111" stroke-width="0.75"/><circle cx="110.7" cy="76.5" r="1.25" fill="#78b40a" stroke="#111" stroke-width="0.75"/><circle cx="127.1" cy="75.9" r="1.25" fill="#78b40a" stroke="#111" stroke-width="0.75"/><circle cx="128.4" cy="78.0" r="1.25" fill="#78b40a" stroke="#111" stroke-width="0.75"/><circle cx="130.3" cy="77.5" r="1.25" fill="#78b40a" stroke="#111" stroke-width="0.75"/><circle cx="131.0" cy="81.0" r="1.25" fill="#78b40a" stroke="#111" stroke-width="0.75"/><circle cx="132.6" cy="83.6" r="1.25" fill="#78b40a" stroke="#111" stroke-width="0.75"/><circle cx="124.7" cy="83.6" r="1.25" fill="#78b40a" stroke="#111" stroke-width="0.75"/><circle cx="125.8" cy="88.2" r="1.25" fill="#78b40a" stroke="#111" stroke-width="0.75"/><circle cx="128.2" cy="91.1" r="1.25" fill="#78b40a" stroke="#111" stroke-width="0.75"/><circle cx="139.8" cy="74.4" r="1.25" fill="#78b40a" stroke="#111" stroke-width="0.75"/><circle cx="141.1" cy="75.9" r="1.25" fill="#78b40a" stroke="#111" stroke-width="0.75"/><circle cx="137.3" cy="78.2" r="1.25" fill="#78b40a" stroke="#111" stroke-width="0.75"/><circle cx="137.1" cy="82.8" r="1.25" fill="#78b40a" stroke="#111" stroke-width="0.75"/><circle cx="135.0" cy="87.3" r="1.25" fill="#78b40a" stroke="#111" stroke-width="0.75"/><circle cx="139.6" cy="88.9" r="1.25" fill="#78b40a" stroke="#111" stroke-width="0.75"/><circle cx="138.9" cy="91.3" r="1.25" fill="#78b40a" stroke="#111" stroke-width="0.75"/><circle cx="143.3" cy="84.1" r="1.25" fill="#78b40a" stroke="#111" stroke-width="0.75"/><circle cx="143.5" cy="86.7" r="1.25" fill="#78b40a" stroke="#111" stroke-width="0.75"/><circle cx="143.7" cy="90.5" r="1.25" fill="#78b40a" stroke="#111" stroke-width="0.75"/><circle cx="155.4" cy="78.0" r="1.25" fill="#78b40a" stroke="#111" stroke-width="0.75"/><circle cx="154.7" cy="81.9" r="1.25" fill="#78b40a" stroke="#111" stroke-width="0.75"/><circle cx="157.7" cy="81.9" r="1.25" fill="#78b40a" stroke="#111" stroke-width="0.75"/><circle cx="152.0" cy="84.3" r="1.25" fill="#78b40a" stroke="#111" stroke-width="0.75"/><circle cx="160.6" cy="83.8" r="1.25" fill="#78b40a" stroke="#111" stroke-width="0.75"/><circle cx="162.5" cy="84.7" r="1.25" fill="#78b40a" stroke="#111" stroke-width="0.75"/><circle cx="169.4" cy="82.9" r="1.25" fill="#78b40a" stroke="#111" stroke-width="0.75"/><circle cx="154.7" cy="87.1" r="1.25" fill="#78b40a" stroke="#111" stroke-width="0.75"/><circle cx="112.2" cy="92.8" r="1.25" fill="#78b40a" stroke="#111" stroke-width="0.75"/><circle cx="115.7" cy="94.3" r="1.25" fill="#78b40a" stroke="#111" stroke-width="0.75"/><circle cx="118.8" cy="94.9" r="1.25" fill="#78b40a" stroke="#111" stroke-width="0.75"/><circle cx="121.2" cy="93.5" r="1.25" fill="#78b40a" stroke="#111" stroke-width="0.75"/><circle cx="120.5" cy="95.7" r="1.25" fill="#78b40a" stroke="#111" stroke-width="0.75"/><circle cx="131.7" cy="95.5" r="1.25" fill="#78b40a" stroke="#111" stroke-width="0.75"/><circle cx="135.4" cy="98.5" r="1.25" fill="#78b40a" stroke="#111" stroke-width="0.75"/><circle cx="137.8" cy="96.6" r="1.25" fill="#78b40a" stroke="#111" stroke-width="0.75"/><circle cx="130.6" cy="101.0" r="1.25" fill="#78b40a" stroke="#111" stroke-width="0.75"/><circle cx="135.4" cy="102.5" r="1.25" fill="#78b40a" stroke="#111" stroke-width="0.75"/><circle cx="137.6" cy="102.7" r="1.25" fill="#78b40a" stroke="#111" stroke-width="0.75"/><circle cx="128.4" cy="106.0" r="1.25" fill="#78b40a" stroke="#111" stroke-width="0.75"/><circle cx="134.5" cy="106.0" r="1.25" fill="#78b40a" stroke="#111" stroke-width="0.75"/><circle cx="139.3" cy="104.2" r="1.25" fill="#78b40a" stroke="#111" stroke-width="0.75"/><circle cx="143.7" cy="104.2" r="1.25" fill="#78b40a" stroke="#111" stroke-width="0.75"/><circle cx="148.5" cy="104.2" r="1.25" fill="#78b40a" stroke="#111" stroke-width="0.75"/><circle cx="154.7" cy="104.8" r="1.25" fill="#78b40a" stroke="#111" stroke-width="0.75"/><circle cx="156.0" cy="102.5" r="1.25" fill="#78b40a" stroke="#111" stroke-width="0.75"/><circle cx="163.0" cy="105.5" r="1.25" fill="#78b40a" stroke="#111" stroke-width="0.75"/><circle cx="141.5" cy="98.1" r="1.25" fill="#78b40a" stroke="#111" stroke-width="0.75"/><circle cx="143.1" cy="95.0" r="1.25" fill="#78b40a" stroke="#111" stroke-width="0.75"/><circle cx="145.9" cy="99.0" r="1.25" fill="#78b40a" stroke="#111" stroke-width="0.75"/><circle cx="145.9" cy="101.0" r="1.25" fill="#78b40a" stroke="#111" stroke-width="0.75"/><circle cx="149.4" cy="98.5" r="1.25" fill="#78b40a" stroke="#111" stroke-width="0.75"/><circle cx="162.5" cy="99.4" r="1.25" fill="#78b40a" stroke="#111" stroke-width="0.75"/><circle cx="166.7" cy="97.2" r="1.25" fill="#78b40a" stroke="#111" stroke-width="0.75"/><circle cx="168.7" cy="93.3" r="1.25" fill="#78b40a" stroke="#111" stroke-width="0.75"/><circle cx="99.0" cy="92.3" r="1.25" fill="#78b40a" stroke="#111" stroke-width="0.75"/><circle cx="104.5" cy="106.6" r="1.25" fill="#78b40a" stroke="#111" stroke-width="0.75"/><circle cx="91.3" cy="111.2" r="1.25" fill="#78b40a" stroke="#111" stroke-width="0.75"/><circle cx="82.1" cy="112.0" r="1.25" fill="#78b40a" stroke="#111" stroke-width="0.75"/><circle cx="75.1" cy="114.7" r="1.25" fill="#78b40a" stroke="#111" stroke-width="0.75"/><circle cx="80.2" cy="113.2" r="1.25" fill="#78b40a" stroke="#111" stroke-width="0.75"/><circle cx="174.9" cy="78.3" r="1.25" fill="#78b40a" stroke="#111" stroke-width="0.75"/><circle cx="178.2" cy="77.0" r="1.25" fill="#78b40a" stroke="#111" stroke-width="0.75"/><circle cx="176.2" cy="85.2" r="1.25" fill="#78b40a" stroke="#111" stroke-width="0.75"/><circle cx="155.8" cy="89.5" r="1.25" fill="#78b40a" stroke="#111" stroke-width="0.75"/><circle cx="180.3" cy="96.4" r="1.25" fill="#78b40a" stroke="#111" stroke-width="0.75"/><circle cx="180.7" cy="98.7" r="1.25" fill="#78b40a" stroke="#111" stroke-width="0.75"/><circle cx="179.5" cy="100.3" r="1.25" fill="#78b40a" stroke="#111" stroke-width="0.75"/><circle cx="161.5" cy="98.0" r="1.25" fill="#78b40a" stroke="#111" stroke-width="0.75"/><circle cx="271.0" cy="81.2" r="1.25" fill="#78b40a" stroke="#111" stroke-width="0.75"/><circle cx="260.5" cy="90.6" r="1.25" fill="#78b40a" stroke="#111" stroke-width="0.75"/><circle cx="265.8" cy="90.8" r="1.25" fill="#78b40a" stroke="#111" stroke-width="0.75"/><circle cx="270.2" cy="90.6" r="1.25" fill="#78b40a" stroke="#111" stroke-width="0.75"/><circle cx="256.2" cy="95.0" r="1.25" fill="#78b40a" stroke="#111" stroke-width="0.75"/><circle cx="260.5" cy="93.7" r="1.25" fill="#78b40a" stroke="#111" stroke-width="0.75"/><circle cx="262.7" cy="94.9" r="1.25" fill="#78b40a" stroke="#111" stroke-width="0.75"/><circle cx="265.3" cy="94.6" r="1.25" fill="#78b40a" stroke="#111" stroke-width="0.75"/><circle cx="268.0" cy="93.7" r="1.25" fill="#78b40a" stroke="#111" stroke-width="0.75"/><circle cx="271.0" cy="95.0" r="1.25" fill="#78b40a" stroke="#111" stroke-width="0.75"/><circle cx="254.8" cy="97.2" r="1.25" fill="#78b40a" stroke="#111" stroke-width="0.75"/><circle cx="258.8" cy="99.0" r="1.25" fill="#78b40a" stroke="#111" stroke-width="0.75"/><circle cx="261.0" cy="96.8" r="1.25" fill="#78b40a" stroke="#111" stroke-width="0.75"/><circle cx="264.0" cy="98.1" r="1.25" fill="#78b40a" stroke="#111" stroke-width="0.75"/><circle cx="265.8" cy="100.3" r="1.25" fill="#78b40a" stroke="#111" stroke-width="0.75"/><circle cx="268.4" cy="98.5" r="1.25" fill="#78b40a" stroke="#111" stroke-width="0.75"/><circle cx="270.6" cy="97.7" r="1.25" fill="#78b40a" stroke="#111" stroke-width="0.75"/><circle cx="266.7" cy="102.9" r="1.25" fill="#78b40a" stroke="#111" stroke-width="0.75"/><circle cx="268.9" cy="104.2" r="1.25" fill="#78b40a" stroke="#111" stroke-width="0.75"/><circle cx="265.3" cy="104.2" r="1.25" fill="#78b40a" stroke="#111" stroke-width="0.75"/><circle cx="274.5" cy="93.3" r="1.25" fill="#78b40a" stroke="#111" stroke-width="0.75"/><circle cx="254.4" cy="105.0" r="1.25" fill="#78b40a" stroke="#111" stroke-width="0.75"/><circle cx="287.2" cy="106.2" r="1.25" fill="#78b40a" stroke="#111" stroke-width="0.75"/><circle cx="270.7" cy="112.5" r="1.25" fill="#78b40a" stroke="#111" stroke-width="0.75"/><circle cx="274.4" cy="110.4" r="1.25" fill="#78b40a" stroke="#111" stroke-width="0.75"/><circle cx="276.4" cy="111.9" r="1.25" fill="#78b40a" stroke="#111" stroke-width="0.75"/><circle cx="276.4" cy="115.1" r="1.25" fill="#78b40a" stroke="#111" stroke-width="0.75"/><circle cx="282.8" cy="118.1" r="1.25" fill="#78b40a" stroke="#111" stroke-width="0.75"/><circle cx="286.4" cy="117.9" r="1.25" fill="#78b40a" stroke="#111" stroke-width="0.75"/><circle cx="284.4" cy="120.1" r="1.25" fill="#78b40a" stroke="#111" stroke-width="0.75"/><circle cx="261.3" cy="126.2" r="1.25" fill="#78b40a" stroke="#111" stroke-width="0.75"/><circle cx="267.9" cy="129.9" r="1.25" fill="#78b40a" stroke="#111" stroke-width="0.75"/><circle cx="272.1" cy="127.8" r="1.25" fill="#78b40a" stroke="#111" stroke-width="0.75"/><circle cx="275.6" cy="126.3" r="1.25" fill="#78b40a" stroke="#111" stroke-width="0.75"/><circle cx="277.2" cy="125.5" r="1.25" fill="#78b40a" stroke="#111" stroke-width="0.75"/><circle cx="278.8" cy="129.7" r="1.25" fill="#78b40a" stroke="#111" stroke-width="0.75"/><circle cx="284.4" cy="127.5" r="1.25" fill="#78b40a" stroke="#111" stroke-width="0.75"/><circle cx="284.8" cy="130.3" r="1.25" fill="#78b40a" stroke="#111" stroke-width="0.75"/><circle cx="286.4" cy="134.4" r="1.25" fill="#78b40a" stroke="#111" stroke-width="0.75"/><circle cx="281.6" cy="137.6" r="1.25" fill="#78b40a" stroke="#111" stroke-width="0.75"/><circle cx="281.8" cy="141.1" r="1.25" fill="#78b40a" stroke="#111" stroke-width="0.75"/><circle cx="280.1" cy="148.2" r="1.25" fill="#78b40a" stroke="#111" stroke-width="0.75"/><circle cx="288.2" cy="150.2" r="1.25" fill="#78b40a" stroke="#111" stroke-width="0.75"/><circle cx="276.5" cy="151.3" r="1.25" fill="#78b40a" stroke="#111" stroke-width="0.75"/><circle cx="278.3" cy="153.8" r="1.25" fill="#78b40a" stroke="#111" stroke-width="0.75"/><circle cx="285.4" cy="154.6" r="1.25" fill="#78b40a" stroke="#111" stroke-width="0.75"/><circle cx="287.3" cy="41.6" r="1.25" fill="#78b40a" stroke="#111" stroke-width="0.75"/><circle cx="299.6" cy="48.0" r="1.25" fill="#78b40a" stroke="#111" stroke-width="0.75"/><circle cx="303.5" cy="43.6" r="1.25" fill="#78b40a" stroke="#111" stroke-width="0.75"/><circle cx="304.8" cy="43.6" r="1.25" fill="#78b40a" stroke="#111" stroke-width="0.75"/><circle cx="316.2" cy="49.4" r="1.25" fill="#78b40a" stroke="#111" stroke-width="0.75"/><circle cx="315.6" cy="51.2" r="1.25" fill="#78b40a" stroke="#111" stroke-width="0.75"/><circle cx="313.2" cy="54.1" r="1.25" fill="#78b40a" stroke="#111" stroke-width="0.75"/><circle cx="318.0" cy="56.2" r="1.25" fill="#78b40a" stroke="#111" stroke-width="0.75"/><circle cx="323.2" cy="57.9" r="1.25" fill="#78b40a" stroke="#111" stroke-width="0.75"/><circle cx="305.5" cy="56.5" r="1.25" fill="#78b40a" stroke="#111" stroke-width="0.75"/><circle cx="312.7" cy="58.2" r="1.25" fill="#78b40a" stroke="#111" stroke-width="0.75"/><circle cx="305.3" cy="62.0" r="1.25" fill="#78b40a" stroke="#111" stroke-width="0.75"/><circle cx="310.5" cy="60.8" r="1.25" fill="#78b40a" stroke="#111" stroke-width="0.75"/><circle cx="312.3" cy="62.1" r="1.25" fill="#78b40a" stroke="#111" stroke-width="0.75"/><circle cx="314.0" cy="61.3" r="1.25" fill="#78b40a" stroke="#111" stroke-width="0.75"/><circle cx="316.2" cy="62.8" r="1.25" fill="#78b40a" stroke="#111" stroke-width="0.75"/><circle cx="318.9" cy="62.3" r="1.25" fill="#78b40a" stroke="#111" stroke-width="0.75"/><circle cx="311.4" cy="65.6" r="1.25" fill="#78b40a" stroke="#111" stroke-width="0.75"/><circle cx="313.6" cy="64.8" r="1.25" fill="#78b40a" stroke="#111" stroke-width="0.75"/><circle cx="320.0" cy="67.0" r="1.25" fill="#78b40a" stroke="#111" stroke-width="0.75"/><circle cx="305.7" cy="66.3" r="1.25" fill="#78b40a" stroke="#111" stroke-width="0.75"/><circle cx="292.1" cy="63.5" r="1.25" fill="#78b40a" stroke="#111" stroke-width="0.75"/><circle cx="297.4" cy="70.0" r="1.25" fill="#78b40a" stroke="#111" stroke-width="0.75"/><circle cx="299.2" cy="70.7" r="1.25" fill="#78b40a" stroke="#111" stroke-width="0.75"/><circle cx="295.2" cy="72.5" r="1.25" fill="#78b40a" stroke="#111" stroke-width="0.75"/><circle cx="285.3" cy="75.5" r="1.25" fill="#78b40a" stroke="#111" stroke-width="0.75"/><circle cx="281.8" cy="81.8" r="1.25" fill="#78b40a" stroke="#111" stroke-width="0.75"/><circle cx="283.4" cy="82.7" r="1.25" fill="#78b40a" stroke="#111" stroke-width="0.75"/><circle cx="291.3" cy="83.2" r="1.25" fill="#78b40a" stroke="#111" stroke-width="0.75"/><circle cx="309.7" cy="77.9" r="1.25" fill="#78b40a" stroke="#111" stroke-width="0.75"/><circle cx="311.0" cy="80.1" r="1.25" fill="#78b40a" stroke="#111" stroke-width="0.75"/><circle cx="314.0" cy="78.3" r="1.25" fill="#78b40a" stroke="#111" stroke-width="0.75"/><circle cx="308.8" cy="80.5" r="1.25" fill="#78b40a" stroke="#111" stroke-width="0.75"/><circle cx="311.4" cy="82.3" r="1.25" fill="#78b40a" stroke="#111" stroke-width="0.75"/><circle cx="321.0" cy="82.3" r="1.25" fill="#78b40a" stroke="#111" stroke-width="0.75"/><circle cx="323.7" cy="82.3" r="1.25" fill="#78b40a" stroke="#111" stroke-width="0.75"/><circle cx="318.4" cy="84.0" r="1.25" fill="#78b40a" stroke="#111" stroke-width="0.75"/><circle cx="364.8" cy="50.0" r="1.25" fill="#78b40a" stroke="#111" stroke-width="0.75"/><circle cx="366.3" cy="54.2" r="1.25" fill="#78b40a" stroke="#111" stroke-width="0.75"/><circle cx="343.4" cy="54.0" r="1.25" fill="#78b40a" stroke="#111" stroke-width="0.75"/><circle cx="347.6" cy="54.2" r="1.25" fill="#78b40a" stroke="#111" stroke-width="0.75"/><circle cx="324.4" cy="57.7" r="1.25" fill="#78b40a" stroke="#111" stroke-width="0.75"/><circle cx="327.1" cy="58.6" r="1.25" fill="#78b40a" stroke="#111" stroke-width="0.75"/><circle cx="327.7" cy="62.4" r="1.25" fill="#78b40a" stroke="#111" stroke-width="0.75"/><circle cx="331.6" cy="61.1" r="1.25" fill="#78b40a" stroke="#111" stroke-width="0.75"/><circle cx="336.4" cy="60.4" r="1.25" fill="#78b40a" stroke="#111" stroke-width="0.75"/><circle cx="345.8" cy="62.0" r="1.25" fill="#78b40a" stroke="#111" stroke-width="0.75"/><circle cx="355.6" cy="62.9" r="1.25" fill="#78b40a" stroke="#111" stroke-width="0.75"/><circle cx="352.1" cy="65.6" r="1.25" fill="#78b40a" stroke="#111" stroke-width="0.75"/><circle cx="352.7" cy="69.9" r="1.25" fill="#78b40a" stroke="#111" stroke-width="0.75"/><circle cx="356.7" cy="72.3" r="1.25" fill="#78b40a" stroke="#111" stroke-width="0.75"/><circle cx="362.4" cy="71.2" r="1.25" fill="#78b40a" stroke="#111" stroke-width="0.75"/><circle cx="367.3" cy="69.4" r="1.25" fill="#78b40a" stroke="#111" stroke-width="0.75"/><circle cx="375.3" cy="70.8" r="1.25" fill="#78b40a" stroke="#111" stroke-width="0.75"/><circle cx="349.7" cy="77.1" r="1.25" fill="#78b40a" stroke="#111" stroke-width="0.75"/><circle cx="376.4" cy="80.7" r="1.25" fill="#78b40a" stroke="#111" stroke-width="0.75"/><circle cx="372.8" cy="78.3" r="1.25" fill="#78b40a" stroke="#111" stroke-width="0.75"/><circle cx="325.9" cy="80.1" r="1.25" fill="#78b40a" stroke="#111" stroke-width="0.75"/><circle cx="335.5" cy="82.3" r="1.25" fill="#78b40a" stroke="#111" stroke-width="0.75"/><circle cx="338.6" cy="85.3" r="1.25" fill="#78b40a" stroke="#111" stroke-width="0.75"/><circle cx="328.0" cy="89.5" r="1.25" fill="#78b40a" stroke="#111" stroke-width="0.75"/><circle cx="348.8" cy="88.3" r="1.25" fill="#78b40a" stroke="#111" stroke-width="0.75"/><circle cx="351.2" cy="88.3" r="1.25" fill="#78b40a" stroke="#111" stroke-width="0.75"/><circle cx="363.5" cy="93.1" r="1.25" fill="#78b40a" stroke="#111" stroke-width="0.75"/><circle cx="373.2" cy="94.6" r="1.25" fill="#78b40a" stroke="#111" stroke-width="0.75"/><circle cx="380.7" cy="90.1" r="1.25" fill="#78b40a" stroke="#111" stroke-width="0.75"/><circle cx="344.3" cy="94.3" r="1.25" fill="#78b40a" stroke="#111" stroke-width="0.75"/><circle cx="351.1" cy="96.1" r="1.25" fill="#78b40a" stroke="#111" stroke-width="0.75"/><circle cx="290.8" cy="86.2" r="1.25" fill="#78b40a" stroke="#111" stroke-width="0.75"/><circle cx="322.5" cy="81.8" r="1.25" fill="#78b40a" stroke="#111" stroke-width="0.75"/><circle cx="311.6" cy="93.8" r="1.25" fill="#78b40a" stroke="#111" stroke-width="0.75"/><circle cx="300.8" cy="95.8" r="1.25" fill="#78b40a" stroke="#111" stroke-width="0.75"/><circle cx="280.0" cy="91.9" r="1.25" fill="#78b40a" stroke="#111" stroke-width="0.75"/><circle cx="277.7" cy="93.1" r="1.25" fill="#78b40a" stroke="#111" stroke-width="0.75"/><circle cx="270.7" cy="99.7" r="1.25" fill="#78b40a" stroke="#111" stroke-width="0.75"/><circle cx="306.7" cy="103.3" r="1.25" fill="#78b40a" stroke="#111" stroke-width="0.75"/><circle cx="306.9" cy="104.9" r="1.25" fill="#78b40a" stroke="#111" stroke-width="0.75"/><circle cx="293.1" cy="108.8" r="1.25" fill="#78b40a" stroke="#111" stroke-width="0.75"/><circle cx="308.5" cy="109.4" r="1.25" fill="#78b40a" stroke="#111" stroke-width="0.75"/><circle cx="326.1" cy="106.1" r="1.25" fill="#78b40a" stroke="#111" stroke-width="0.75"/><circle cx="325.0" cy="109.4" r="1.25" fill="#78b40a" stroke="#111" stroke-width="0.75"/><circle cx="330.6" cy="107.1" r="1.25" fill="#78b40a" stroke="#111" stroke-width="0.75"/><circle cx="293.1" cy="113.0" r="1.25" fill="#78b40a" stroke="#111" stroke-width="0.75"/><circle cx="299.9" cy="113.3" r="1.25" fill="#78b40a" stroke="#111" stroke-width="0.75"/><circle cx="308.9" cy="116.9" r="1.25" fill="#78b40a" stroke="#111" stroke-width="0.75"/><circle cx="317.8" cy="117.1" r="1.25" fill="#78b40a" stroke="#111" stroke-width="0.75"/><circle cx="322.0" cy="117.8" r="1.25" fill="#78b40a" stroke="#111" stroke-width="0.75"/><circle cx="312.5" cy="120.7" r="1.25" fill="#78b40a" stroke="#111" stroke-width="0.75"/><circle cx="316.0" cy="121.6" r="1.25" fill="#78b40a" stroke="#111" stroke-width="0.75"/><circle cx="329.7" cy="122.1" r="1.25" fill="#78b40a" stroke="#111" stroke-width="0.75"/><circle cx="330.6" cy="126.2" r="1.25" fill="#78b40a" stroke="#111" stroke-width="0.75"/><circle cx="301.2" cy="130.2" r="1.25" fill="#78b40a" stroke="#111" stroke-width="0.75"/><circle cx="314.8" cy="130.7" r="1.25" fill="#78b40a" stroke="#111" stroke-width="0.75"/><circle cx="290.8" cy="119.1" r="1.25" fill="#78b40a" stroke="#111" stroke-width="0.75"/><circle cx="293.5" cy="115.7" r="1.25" fill="#78b40a" stroke="#111" stroke-width="0.75"/><circle cx="294.9" cy="117.6" r="1.25" fill="#78b40a" stroke="#111" stroke-width="0.75"/><circle cx="296.7" cy="119.4" r="1.25" fill="#78b40a" stroke="#111" stroke-width="0.75"/><circle cx="298.8" cy="116.7" r="1.25" fill="#78b40a" stroke="#111" stroke-width="0.75"/><circle cx="301.7" cy="117.3" r="1.25" fill="#78b40a" stroke="#111" stroke-width="0.75"/><circle cx="290.4" cy="121.6" r="1.25" fill="#78b40a" stroke="#111" stroke-width="0.75"/><circle cx="292.6" cy="123.3" r="1.25" fill="#78b40a" stroke="#111" stroke-width="0.75"/><circle cx="287.2" cy="124.5" r="1.25" fill="#78b40a" stroke="#111" stroke-width="0.75"/><circle cx="289.0" cy="126.6" r="1.25" fill="#78b40a" stroke="#111" stroke-width="0.75"/><circle cx="291.7" cy="125.2" r="1.25" fill="#78b40a" stroke="#111" stroke-width="0.75"/><circle cx="294.9" cy="127.5" r="1.25" fill="#78b40a" stroke="#111" stroke-width="0.75"/><circle cx="288.1" cy="129.3" r="1.25" fill="#78b40a" stroke="#111" stroke-width="0.75"/><circle cx="291.7" cy="130.2" r="1.25" fill="#78b40a" stroke="#111" stroke-width="0.75"/><circle cx="290.8" cy="128.0" r="1.25" fill="#78b40a" stroke="#111" stroke-width="0.75"/><circle cx="286.9" cy="126.9" r="1.25" fill="#78b40a" stroke="#111" stroke-width="0.75"/><circle cx="288.4" cy="124.6" r="1.25" fill="#78b40a" stroke="#111" stroke-width="0.75"/><circle cx="290.9" cy="132.3" r="1.25" fill="#78b40a" stroke="#111" stroke-width="0.75"/><circle cx="292.7" cy="134.1" r="1.25" fill="#78b40a" stroke="#111" stroke-width="0.75"/><circle cx="295.0" cy="134.3" r="1.25" fill="#78b40a" stroke="#111" stroke-width="0.75"/><circle cx="305.8" cy="132.8" r="1.25" fill="#78b40a" stroke="#111" stroke-width="0.75"/><circle cx="297.1" cy="135.8" r="1.25" fill="#78b40a" stroke="#111" stroke-width="0.75"/><circle cx="300.1" cy="134.8" r="1.25" fill="#78b40a" stroke="#111" stroke-width="0.75"/><circle cx="302.7" cy="135.8" r="1.25" fill="#78b40a" stroke="#111" stroke-width="0.75"/><circle cx="300.7" cy="137.9" r="1.25" fill="#78b40a" stroke="#111" stroke-width="0.75"/><circle cx="305.3" cy="138.4" r="1.25" fill="#78b40a" stroke="#111" stroke-width="0.75"/><circle cx="308.6" cy="136.1" r="1.25" fill="#78b40a" stroke="#111" stroke-width="0.75"/><circle cx="296.4" cy="139.4" r="1.25" fill="#78b40a" stroke="#111" stroke-width="0.75"/><circle cx="300.1" cy="140.4" r="1.25" fill="#78b40a" stroke="#111" stroke-width="0.75"/><circle cx="302.5" cy="140.2" r="1.25" fill="#78b40a" stroke="#111" stroke-width="0.75"/><circle cx="309.0" cy="140.9" r="1.25" fill="#78b40a" stroke="#111" stroke-width="0.75"/><circle cx="312.1" cy="143.0" r="1.25" fill="#78b40a" stroke="#111" stroke-width="0.75"/><circle cx="313.7" cy="142.0" r="1.25" fill="#78b40a" stroke="#111" stroke-width="0.75"/><circle cx="315.5" cy="140.9" r="1.25" fill="#78b40a" stroke="#111" stroke-width="0.75"/><circle cx="315.0" cy="145.0" r="1.25" fill="#78b40a" stroke="#111" stroke-width="0.75"/><circle cx="315.5" cy="133.5" r="1.25" fill="#78b40a" stroke="#111" stroke-width="0.75"/><circle cx="305.3" cy="146.1" r="1.25" fill="#78b40a" stroke="#111" stroke-width="0.75"/><circle cx="306.0" cy="148.6" r="1.25" fill="#78b40a" stroke="#111" stroke-width="0.75"/><circle cx="292.3" cy="147.4" r="1.25" fill="#78b40a" stroke="#111" stroke-width="0.75"/><circle cx="298.1" cy="150.5" r="1.25" fill="#78b40a" stroke="#111" stroke-width="0.75"/><circle cx="330.1" cy="142.3" r="1.25" fill="#78b40a" stroke="#111" stroke-width="0.75"/><circle cx="332.8" cy="145.5" r="1.25" fill="#78b40a" stroke="#111" stroke-width="0.75"/><circle cx="336.2" cy="145.3" r="1.25" fill="#78b40a" stroke="#111" stroke-width="0.75"/><circle cx="338.0" cy="144.3" r="1.25" fill="#78b40a" stroke="#111" stroke-width="0.75"/><circle cx="344.8" cy="96.5" r="1.25" fill="#78b40a" stroke="#111" stroke-width="0.75"/><circle cx="348.4" cy="99.5" r="1.25" fill="#78b40a" stroke="#111" stroke-width="0.75"/><circle cx="342.4" cy="102.2" r="1.25" fill="#78b40a" stroke="#111" stroke-width="0.75"/><circle cx="344.4" cy="103.8" r="1.25" fill="#78b40a" stroke="#111" stroke-width="0.75"/><circle cx="346.4" cy="104.0" r="1.25" fill="#78b40a" stroke="#111" stroke-width="0.75"/><circle cx="361.4" cy="100.1" r="1.25" fill="#78b40a" stroke="#111" stroke-width="0.75"/><circle cx="364.4" cy="102.5" r="1.25" fill="#78b40a" stroke="#111" stroke-width="0.75"/><circle cx="368.6" cy="100.1" r="1.25" fill="#78b40a" stroke="#111" stroke-width="0.75"/><circle cx="371.3" cy="101.0" r="1.25" fill="#78b40a" stroke="#111" stroke-width="0.75"/><circle cx="374.9" cy="102.9" r="1.25" fill="#78b40a" stroke="#111" stroke-width="0.75"/><circle cx="352.8" cy="107.9" r="1.25" fill="#78b40a" stroke="#111" stroke-width="0.75"/><circle cx="356.2" cy="106.7" r="1.25" fill="#78b40a" stroke="#111" stroke-width="0.75"/><circle cx="357.7" cy="104.9" r="1.25" fill="#78b40a" stroke="#111" stroke-width="0.75"/><circle cx="359.8" cy="105.2" r="1.25" fill="#78b40a" stroke="#111" stroke-width="0.75"/><circle cx="341.2" cy="111.9" r="1.25" fill="#78b40a" stroke="#111" stroke-width="0.75"/><circle cx="338.5" cy="118.2" r="1.25" fill="#78b40a" stroke="#111" stroke-width="0.75"/><circle cx="347.5" cy="139.3" r="1.25" fill="#78b40a" stroke="#111" stroke-width="0.75"/><circle cx="152.9" cy="91.1" r="1.25" fill="#78b40a" stroke="#111" stroke-width="0.75"/><circle cx="157.8" cy="90.4" r="1.25" fill="#78b40a" stroke="#111" stroke-width="0.75"/><circle cx="156.0" cy="93.0" r="1.25" fill="#78b40a" stroke="#111" stroke-width="0.75"/><circle cx="148.9" cy="94.3" r="1.25" fill="#78b40a" stroke="#111" stroke-width="0.75"/><circle cx="148.6" cy="93.6" r="1.25" fill="#78b40a" stroke="#111" stroke-width="0.75"/><circle cx="154.4" cy="97.1" r="1.25" fill="#78b40a" stroke="#111" stroke-width="0.75"/><circle cx="149.9" cy="91.7" r="1.25" fill="#78b40a" stroke="#111" stroke-width="0.75"/><circle cx="157.4" cy="98.2" r="1.25" fill="#78b40a" stroke="#111" stroke-width="0.75"/><circle cx="156.7" cy="93.3" r="1.25" fill="#78b40a" stroke="#111" stroke-width="0.75"/><circle cx="160.9" cy="92.3" r="1.25" fill="#78b40a" stroke="#111" stroke-width="0.75"/><circle cx="152.6" cy="97.0" r="1.25" fill="#78b40a" stroke="#111" stroke-width="0.75"/><circle cx="150.7" cy="94.9" r="1.25" fill="#78b40a" stroke="#111" stroke-width="0.75"/><circle cx="157.6" cy="93.1" r="1.25" fill="#78b40a" stroke="#111" stroke-width="0.75"/><circle cx="156.2" cy="90.3" r="1.25" fill="#78b40a" stroke="#111" stroke-width="0.75"/><circle cx="158.2" cy="93.5" r="1.25" fill="#78b40a" stroke="#111" stroke-width="0.75"/><circle cx="152.7" cy="95.0" r="1.25" fill="#78b40a" stroke="#111" stroke-width="0.75"/><circle cx="154.8" cy="92.4" r="1.25" fill="#78b40a" stroke="#111" stroke-width="0.75"/><circle cx="159.9" cy="96.0" r="1.25" fill="#78b40a" stroke="#111" stroke-width="0.75"/><circle cx="151.7" cy="94.9" r="1.25" fill="#78b40a" stroke="#111" stroke-width="0.75"/><circle cx="155.9" cy="97.6" r="1.25" fill="#78b40a" stroke="#111" stroke-width="0.75"/><circle cx="158.9" cy="92.3" r="1.25" fill="#78b40a" stroke="#111" stroke-width="0.75"/><circle cx="154.3" cy="96.5" r="1.25" fill="#78b40a" stroke="#111" stroke-width="0.75"/><circle cx="150.3" cy="94.1" r="1.25" fill="#78b40a" stroke="#111" stroke-width="0.75"/><circle cx="148.6" cy="95.7" r="1.25" fill="#78b40a" stroke="#111" stroke-width="0.75"/><circle cx="159.5" cy="94.9" r="1.25" fill="#78b40a" stroke="#111" stroke-width="0.75"/><circle cx="161.1" cy="92.5" r="1.25" fill="#78b40a" stroke="#111" stroke-width="0.75"/><circle cx="158.4" cy="95.0" r="1.25" fill="#78b40a" stroke="#111" stroke-width="0.75"/><circle cx="156.7" cy="93.8" r="1.25" fill="#78b40a" stroke="#111" stroke-width="0.75"/><circle cx="155.1" cy="95.7" r="1.25" fill="#78b40a" stroke="#111" stroke-width="0.75"/><circle cx="148.9" cy="96.0" r="1.25" fill="#78b40a" stroke="#111" stroke-width="0.75"/><circle cx="160.3" cy="92.3" r="1.25" fill="#78b40a" stroke="#111" stroke-width="0.75"/><circle cx="153.8" cy="95.7" r="1.25" fill="#78b40a" stroke="#111" stroke-width="0.75"/><circle cx="148.3" cy="93.9" r="1.25" fill="#78b40a" stroke="#111" stroke-width="0.75"/><circle cx="149.9" cy="91.9" r="1.25" fill="#78b40a" stroke="#111" stroke-width="0.75"/><circle cx="153.9" cy="97.5" r="1.25" fill="#78b40a" stroke="#111" stroke-width="0.75"/><circle cx="149.2" cy="93.7" r="1.25" fill="#78b40a" stroke="#111" stroke-width="0.75"/><circle cx="156.2" cy="97.7" r="1.25" fill="#78b40a" stroke="#111" stroke-width="0.75"/><circle cx="160.3" cy="97.5" r="1.25" fill="#78b40a" stroke="#111" stroke-width="0.75"/><circle cx="152.2" cy="93.4" r="1.25" fill="#78b40a" stroke="#111" stroke-width="0.75"/><circle cx="153.4" cy="97.7" r="1.25" fill="#78b40a" stroke="#111" stroke-width="0.75"/><circle cx="150.6" cy="91.8" r="1.25" fill="#78b40a" stroke="#111" stroke-width="0.75"/><circle cx="151.5" cy="94.1" r="1.25" fill="#78b40a" stroke="#111" stroke-width="0.75"/><circle cx="156.8" cy="92.1" r="1.25" fill="#78b40a" stroke="#111" stroke-width="0.75"/><circle cx="153.5" cy="94.8" r="1.25" fill="#78b40a" stroke="#111" stroke-width="0.75"/><circle cx="162.3" cy="95.9" r="1.25" fill="#78b40a" stroke="#111" stroke-width="0.75"/><circle cx="155.2" cy="94.6" r="1.25" fill="#78b40a" stroke="#111" stroke-width="0.75"/><circle cx="156.8" cy="90.9" r="1.25" fill="#78b40a" stroke="#111" stroke-width="0.75"/><circle cx="159.0" cy="95.6" r="1.25" fill="#78b40a" stroke="#111" stroke-width="0.75"/><circle cx="158.7" cy="95.7" r="1.25" fill="#78b40a" stroke="#111" stroke-width="0.75"/><circle cx="153.9" cy="93.2" r="1.25" fill="#78b40a" stroke="#111" stroke-width="0.75"/><circle cx="151.0" cy="94.7" r="1.25" fill="#78b40a" stroke="#111" stroke-width="0.75"/><circle cx="152.1" cy="91.6" r="1.25" fill="#78b40a" stroke="#111" stroke-width="0.75"/><circle cx="153.4" cy="90.9" r="1.25" fill="#78b40a" stroke="#111" stroke-width="0.75"/><circle cx="151.0" cy="92.9" r="1.25" fill="#78b40a" stroke="#111" stroke-width="0.75"/><circle cx="156.1" cy="91.6" r="1.25" fill="#78b40a" stroke="#111" stroke-width="0.75"/><circle cx="152.5" cy="92.8" r="1.25" fill="#78b40a" stroke="#111" stroke-width="0.75"/><circle cx="153.6" cy="91.4" r="1.25" fill="#78b40a" stroke="#111" stroke-width="0.75"/><circle cx="154.7" cy="93.7" r="1.25" fill="#78b40a" stroke="#111" stroke-width="0.75"/><circle cx="153.4" cy="92.3" r="1.25" fill="#78b40a" stroke="#111" stroke-width="0.75"/><circle cx="158.3" cy="91.6" r="1.25" fill="#78b40a" stroke="#111" stroke-width="0.75"/><circle cx="155.3" cy="91.5" r="1.25" fill="#78b40a" stroke="#111" stroke-width="0.75"/><circle cx="155.4" cy="90.8" r="1.25" fill="#78b40a" stroke="#111" stroke-width="0.75"/><circle cx="155.3" cy="96.9" r="1.25" fill="#78b40a" stroke="#111" stroke-width="0.75"/><circle cx="158.6" cy="95.1" r="1.25" fill="#78b40a" stroke="#111" stroke-width="0.75"/><circle cx="152.6" cy="92.9" r="1.25" fill="#78b40a" stroke="#111" stroke-width="0.75"/><circle cx="151.7" cy="95.5" r="1.25" fill="#78b40a" stroke="#111" stroke-width="0.75"/><circle cx="155.3" cy="95.6" r="1.25" fill="#78b40a" stroke="#111" stroke-width="0.75"/><circle cx="153.3" cy="92.0" r="1.25" fill="#78b40a" stroke="#111" stroke-width="0.75"/><circle cx="158.5" cy="95.8" r="1.25" fill="#78b40a" stroke="#111" stroke-width="0.75"/><circle cx="158.2" cy="95.3" r="1.25" fill="#78b40a" stroke="#111" stroke-width="0.75"/><circle cx="152.3" cy="93.9" r="1.25" fill="#78b40a" stroke="#111" stroke-width="0.75"/><circle cx="153.6" cy="90.8" r="1.25" fill="#78b40a" stroke="#111" stroke-width="0.75"/><circle cx="152.6" cy="95.0" r="1.25" fill="#78b40a" stroke="#111" stroke-width="0.75"/><circle cx="159.6" cy="93.5" r="1.25" fill="#78b40a" stroke="#111" stroke-width="0.75"/><circle cx="159.6" cy="92.9" r="1.25" fill="#78b40a" stroke="#111" stroke-width="0.75"/><circle cx="152.2" cy="92.1" r="1.25" fill="#78b40a" stroke="#111" stroke-width="0.75"/><circle cx="152.0" cy="91.9" r="1.25" fill="#78b40a" stroke="#111" stroke-width="0.75"/><circle cx="156.2" cy="96.4" r="1.25" fill="#78b40a" stroke="#111" stroke-width="0.75"/><circle cx="158.4" cy="93.7" r="1.25" fill="#78b40a" stroke="#111" stroke-width="0.75"/><circle cx="156.5" cy="95.7" r="1.25" fill="#78b40a" stroke="#111" stroke-width="0.75"/><circle cx="150.8" cy="94.8" r="1.25" fill="#78b40a" stroke="#111" stroke-width="0.75"/><circle cx="159.1" cy="95.6" r="1.25" fill="#78b40a" stroke="#111" stroke-width="0.75"/><circle cx="157.5" cy="93.7" r="1.25" fill="#78b40a" stroke="#111" stroke-width="0.75"/><circle cx="151.8" cy="95.7" r="1.25" fill="#78b40a" stroke="#111" stroke-width="0.75"/><circle cx="153.3" cy="95.7" r="1.25" fill="#78b40a" stroke="#111" stroke-width="0.75"/><circle cx="158.8" cy="93.5" r="1.25" fill="#78b40a" stroke="#111" stroke-width="0.75"/><circle cx="154.8" cy="96.0" r="1.25" fill="#78b40a" stroke="#111" stroke-width="0.75"/><circle cx="157.1" cy="92.5" r="1.25" fill="#78b40a" stroke="#111" stroke-width="0.75"/><circle cx="153.0" cy="95.4" r="1.25" fill="#78b40a" stroke="#111" stroke-width="0.75"/><circle cx="154.5" cy="94.2" r="1.25" fill="#78b40a" stroke="#111" stroke-width="0.75"/><circle cx="158.8" cy="94.7" r="1.25" fill="#78b40a" stroke="#111" stroke-width="0.75"/><circle cx="155.7" cy="95.9" r="1.25" fill="#78b40a" stroke="#111" stroke-width="0.75"/><circle cx="155.0" cy="95.6" r="1.25" fill="#78b40a" stroke="#111" stroke-width="0.75"/><circle cx="157.8" cy="92.7" r="1.25" fill="#78b40a" stroke="#111" stroke-width="0.75"/><circle cx="153.8" cy="93.1" r="1.25" fill="#78b40a" stroke="#111" stroke-width="0.75"/><circle cx="153.7" cy="94.4" r="1.25" fill="#78b40a" stroke="#111" stroke-width="0.75"/><circle cx="153.8" cy="93.6" r="1.25" fill="#78b40a" stroke="#111" stroke-width="0.75"/><circle cx="154.5" cy="93.8" r="1.25" fill="#78b40a" stroke="#111" stroke-width="0.75"/><circle cx="156.1" cy="95.8" r="1.25" fill="#78b40a" stroke="#111" stroke-width="0.75"/><circle cx="154.9" cy="95.8" r="1.25" fill="#78b40a" stroke="#111" stroke-width="0.75"/><circle cx="155.5" cy="94.1" r="1.25" fill="#78b40a" stroke="#111" stroke-width="0.75"/><circle cx="155.7" cy="91.9" r="1.25" fill="#78b40a" stroke="#111" stroke-width="0.75"/><circle cx="155.1" cy="92.6" r="1.25" fill="#78b40a" stroke="#111" stroke-width="0.75"/><circle cx="153.2" cy="93.9" r="1.25" fill="#78b40a" stroke="#111" stroke-width="0.75"/><circle cx="157.1" cy="94.2" r="1.25" fill="#78b40a" stroke="#111" stroke-width="0.75"/><circle cx="154.3" cy="94.1" r="1.25" fill="#78b40a" stroke="#111" stroke-width="0.75"/><circle cx="155.9" cy="95.3" r="1.25" fill="#78b40a" stroke="#111" stroke-width="0.75"/><circle cx="152.7" cy="94.3" r="1.25" fill="#78b40a" stroke="#111" stroke-width="0.75"/><circle cx="153.7" cy="93.0" r="1.25" fill="#78b40a" stroke="#111" stroke-width="0.75"/><circle cx="157.4" cy="94.0" r="1.25" fill="#78b40a" stroke="#111" stroke-width="0.75"/><circle cx="155.9" cy="95.1" r="1.25" fill="#78b40a" stroke="#111" stroke-width="0.75"/><circle cx="158.4" cy="93.8" r="1.25" fill="#78b40a" stroke="#111" stroke-width="0.75"/><circle cx="156.3" cy="94.0" r="1.25" fill="#78b40a" stroke="#111" stroke-width="0.75"/><circle cx="155.6" cy="94.8" r="1.25" fill="#78b40a" stroke="#111" stroke-width="0.75"/><circle cx="155.2" cy="94.1" r="1.25" fill="#78b40a" stroke="#111" stroke-width="0.75"/><circle cx="155.3" cy="95.9" r="1.25" fill="#78b40a" stroke="#111" stroke-width="0.75"/><circle cx="156.9" cy="95.7" r="1.25" fill="#78b40a" stroke="#111" stroke-width="0.75"/><circle cx="155.9" cy="96.0" r="1.25" fill="#78b40a" stroke="#111" stroke-width="0.75"/><circle cx="157.9" cy="92.4" r="1.25" fill="#78b40a" stroke="#111" stroke-width="0.75"/><circle cx="152.9" cy="93.7" r="1.25" fill="#78b40a" stroke="#111" stroke-width="0.75"/><circle cx="359.9" cy="77.3" r="1.25" fill="#78b40a" stroke="#111" stroke-width="0.75"/><circle cx="359.9" cy="80.4" r="1.25" fill="#78b40a" stroke="#111" stroke-width="0.75"/><circle cx="367.7" cy="82.1" r="1.25" fill="#78b40a" stroke="#111" stroke-width="0.75"/><circle cx="360.8" cy="80.8" r="1.25" fill="#78b40a" stroke="#111" stroke-width="0.75"/><circle cx="366.4" cy="76.6" r="1.25" fill="#78b40a" stroke="#111" stroke-width="0.75"/><circle cx="363.5" cy="79.1" r="1.25" fill="#78b40a" stroke="#111" stroke-width="0.75"/><circle cx="360.9" cy="78.7" r="1.25" fill="#78b40a" stroke="#111" stroke-width="0.75"/><circle cx="364.8" cy="78.0" r="1.25" fill="#78b40a" stroke="#111" stroke-width="0.75"/><circle cx="361.3" cy="77.9" r="1.25" fill="#78b40a" stroke="#111" stroke-width="0.75"/><circle cx="365.2" cy="78.8" r="1.25" fill="#78b40a" stroke="#111" stroke-width="0.75"/><circle cx="366.0" cy="79.3" r="1.25" fill="#78b40a" stroke="#111" stroke-width="0.75"/><circle cx="360.3" cy="77.5" r="1.25" fill="#78b40a" stroke="#111" stroke-width="0.75"/><circle cx="362.1" cy="76.5" r="1.25" fill="#78b40a" stroke="#111" stroke-width="0.75"/><circle cx="363.7" cy="82.2" r="1.25" fill="#78b40a" stroke="#111" stroke-width="0.75"/><circle cx="368.1" cy="77.5" r="1.25" fill="#78b40a" stroke="#111" stroke-width="0.75"/><circle cx="365.4" cy="80.6" r="1.25" fill="#78b40a" stroke="#111" stroke-width="0.75"/><circle cx="366.7" cy="78.7" r="1.25" fill="#78b40a" stroke="#111" stroke-width="0.75"/><circle cx="366.1" cy="81.4" r="1.25" fill="#78b40a" stroke="#111" stroke-width="0.75"/><circle cx="364.1" cy="78.0" r="1.25" fill="#78b40a" stroke="#111" stroke-width="0.75"/><circle cx="365.2" cy="82.3" r="1.25" fill="#78b40a" stroke="#111" stroke-width="0.75"/><circle cx="362.0" cy="76.5" r="1.25" fill="#78b40a" stroke="#111" stroke-width="0.75"/><circle cx="364.9" cy="77.3" r="1.25" fill="#78b40a" stroke="#111" stroke-width="0.75"/><circle cx="362.5" cy="77.8" r="1.25" fill="#78b40a" stroke="#111" stroke-width="0.75"/><circle cx="367.5" cy="77.7" r="1.25" fill="#78b40a" stroke="#111" stroke-width="0.75"/><circle cx="364.6" cy="76.9" r="1.25" fill="#78b40a" stroke="#111" stroke-width="0.75"/><circle cx="367.2" cy="79.6" r="1.25" fill="#78b40a" stroke="#111" stroke-width="0.75"/><circle cx="361.2" cy="79.0" r="1.25" fill="#78b40a" stroke="#111" stroke-width="0.75"/><circle cx="368.1" cy="78.7" r="1.25" fill="#78b40a" stroke="#111" stroke-width="0.75"/><circle cx="312.8" cy="63.4" r="1.25" fill="#78b40a" stroke="#111" stroke-width="0.75"/><circle cx="312.1" cy="61.8" r="1.25" fill="#78b40a" stroke="#111" stroke-width="0.75"/><circle cx="311.8" cy="63.4" r="1.25" fill="#78b40a" stroke="#111" stroke-width="0.75"/><circle cx="314.1" cy="62.5" r="1.25" fill="#78b40a" stroke="#111" stroke-width="0.75"/><circle cx="312.2" cy="61.1" r="1.25" fill="#78b40a" stroke="#111" stroke-width="0.75"/><circle cx="310.1" cy="63.0" r="1.25" fill="#78b40a" stroke="#111" stroke-width="0.75"/><circle cx="311.2" cy="60.2" r="1.25" fill="#78b40a" stroke="#111" stroke-width="0.75"/><circle cx="315.2" cy="62.6" r="1.25" fill="#78b40a" stroke="#111" stroke-width="0.75"/><circle cx="311.4" cy="60.6" r="1.25" fill="#78b40a" stroke="#111" stroke-width="0.75"/><circle cx="311.5" cy="61.6" r="1.25" fill="#78b40a" stroke="#111" stroke-width="0.75"/><circle cx="297.8" cy="136.2" r="1.25" fill="#78b40a" stroke="#111" stroke-width="0.75"/><circle cx="304.3" cy="136.8" r="1.25" fill="#78b40a" stroke="#111" stroke-width="0.75"/><circle cx="299.0" cy="135.6" r="1.25" fill="#78b40a" stroke="#111" stroke-width="0.75"/><circle cx="300.3" cy="136.5" r="1.25" fill="#78b40a" stroke="#111" stroke-width="0.75"/><circle cx="298.1" cy="136.5" r="1.25" fill="#78b40a" stroke="#111" stroke-width="0.75"/><circle cx="297.2" cy="135.9" r="1.25" fill="#78b40a" stroke="#111" stroke-width="0.75"/><circle cx="298.9" cy="134.9" r="1.25" fill="#78b40a" stroke="#111" stroke-width="0.75"/><circle cx="301.2" cy="136.7" r="1.25" fill="#78b40a" stroke="#111" stroke-width="0.75"/><circle cx="302.5" cy="137.4" r="1.25" fill="#78b40a" stroke="#111" stroke-width="0.75"/><circle cx="302.2" cy="138.8" r="1.25" fill="#78b40a" stroke="#111" stroke-width="0.75"/><circle cx="299.6" cy="135.5" r="1.25" fill="#78b40a" stroke="#111" stroke-width="0.75"/><circle cx="302.3" cy="137.4" r="1.25" fill="#78b40a" stroke="#111" stroke-width="0.75"/><circle cx="293.6" cy="122.0" r="1.25" fill="#78b40a" stroke="#111" stroke-width="0.75"/><circle cx="292.4" cy="123.5" r="1.25" fill="#78b40a" stroke="#111" stroke-width="0.75"/><circle cx="287.6" cy="121.2" r="1.25" fill="#78b40a" stroke="#111" stroke-width="0.75"/><circle cx="290.5" cy="123.7" r="1.25" fill="#78b40a" stroke="#111" stroke-width="0.75"/><circle cx="292.9" cy="123.6" r="1.25" fill="#78b40a" stroke="#111" stroke-width="0.75"/><circle cx="291.2" cy="124.1" r="1.25" fill="#78b40a" stroke="#111" stroke-width="0.75"/><circle cx="292.0" cy="122.5" r="1.25" fill="#78b40a" stroke="#111" stroke-width="0.75"/><circle cx="287.6" cy="119.9" r="1.25" fill="#78b40a" stroke="#111" stroke-width="0.75"/><circle cx="291.0" cy="122.0" r="1.25" fill="#78b40a" stroke="#111" stroke-width="0.75"/><circle cx="291.5" cy="122.4" r="1.25" fill="#78b40a" stroke="#111" stroke-width="0.75"/><circle cx="128.4" cy="74.5" r="1.25" fill="#78b40a" stroke="#111" stroke-width="0.75"/><circle cx="130.3" cy="78.2" r="1.25" fill="#78b40a" stroke="#111" stroke-width="0.75"/><circle cx="128.5" cy="77.2" r="1.25" fill="#78b40a" stroke="#111" stroke-width="0.75"/><circle cx="129.5" cy="74.8" r="1.25" fill="#78b40a" stroke="#111" stroke-width="0.75"/><circle cx="129.9" cy="75.8" r="1.25" fill="#78b40a" stroke="#111" stroke-width="0.75"/><circle cx="125.9" cy="75.8" r="1.25" fill="#78b40a" stroke="#111" stroke-width="0.75"/><circle cx="129.9" cy="75.5" r="1.25" fill="#78b40a" stroke="#111" stroke-width="0.75"/><circle cx="128.5" cy="76.4" r="1.25" fill="#78b40a" stroke="#111" stroke-width="0.75"/><circle cx="263.3" cy="98.0" r="1.25" fill="#78b40a" stroke="#111" stroke-width="0.75"/><circle cx="265.6" cy="97.4" r="1.25" fill="#78b40a" stroke="#111" stroke-width="0.75"/><circle cx="264.6" cy="93.1" r="1.25" fill="#78b40a" stroke="#111" stroke-width="0.75"/><circle cx="260.7" cy="94.5" r="1.25" fill="#78b40a" stroke="#111" stroke-width="0.75"/><circle cx="265.4" cy="94.9" r="1.25" fill="#78b40a" stroke="#111" stroke-width="0.75"/><circle cx="264.0" cy="92.6" r="1.25" fill="#78b40a" stroke="#111" stroke-width="0.75"/><circle cx="260.0" cy="94.7" r="1.25" fill="#78b40a" stroke="#111" stroke-width="0.75"/><circle cx="264.9" cy="98.0" r="1.25" fill="#78b40a" stroke="#111" stroke-width="0.75"/><circle cx="264.9" cy="94.8" r="1.25" fill="#78b40a" stroke="#111" stroke-width="0.75"/><circle cx="263.6" cy="96.2" r="1.25" fill="#78b40a" stroke="#111" stroke-width="0.75"/><circle cx="335.8" cy="144.1" r="1.25" fill="#78b40a" stroke="#111" stroke-width="0.75"/><circle cx="338.0" cy="144.3" r="1.25" fill="#78b40a" stroke="#111" stroke-width="0.75"/><circle cx="333.6" cy="145.1" r="1.25" fill="#78b40a" stroke="#111" stroke-width="0.75"/><circle cx="335.7" cy="144.5" r="1.25" fill="#78b40a" stroke="#111" stroke-width="0.75"/><circle cx="129.6" cy="59.2" r="1.25" fill="#78b40a" stroke="#111" stroke-width="0.75"/><circle cx="129.4" cy="59.0" r="1.25" fill="#78b40a" stroke="#111" stroke-width="0.75"/><circle cx="131.5" cy="59.0" r="1.25" fill="#78b40a" stroke="#111" stroke-width="0.75"/><circle cx="249.2" cy="67.9" r="1.25" fill="#f0a014" stroke="#111" stroke-width="0.75"/><circle cx="260.1" cy="67.4" r="1.25" fill="#f0a014" stroke="#111" stroke-width="0.75"/><circle cx="261.0" cy="68.8" r="1.25" fill="#f0a014" stroke="#111" stroke-width="0.75"/><circle cx="236.5" cy="73.3" r="1.25" fill="#f0a014" stroke="#111" stroke-width="0.75"/><circle cx="254.8" cy="76.6" r="1.25" fill="#f0a014" stroke="#111" stroke-width="0.75"/><circle cx="253.1" cy="78.4" r="1.25" fill="#f0a014" stroke="#111" stroke-width="0.75"/><circle cx="243.9" cy="78.8" r="1.25" fill="#f0a014" stroke="#111" stroke-width="0.75"/><circle cx="240.4" cy="80.3" r="1.25" fill="#f0a014" stroke="#111" stroke-width="0.75"/><circle cx="235.3" cy="78.6" r="1.25" fill="#f0a014" stroke="#111" stroke-width="0.75"/><circle cx="233.0" cy="80.3" r="1.25" fill="#f0a014" stroke="#111" stroke-width="0.75"/><circle cx="237.9" cy="81.5" r="1.25" fill="#f0a014" stroke="#111" stroke-width="0.75"/><circle cx="236.0" cy="83.6" r="1.25" fill="#f0a014" stroke="#111" stroke-width="0.75"/><circle cx="243.0" cy="83.6" r="1.25" fill="#f0a014" stroke="#111" stroke-width="0.75"/><circle cx="231.2" cy="84.5" r="1.25" fill="#f0a014" stroke="#111" stroke-width="0.75"/><circle cx="225.1" cy="85.0" r="1.25" fill="#f0a014" stroke="#111" stroke-width="0.75"/><circle cx="226.8" cy="85.8" r="1.25" fill="#f0a014" stroke="#111" stroke-width="0.75"/><circle cx="228.6" cy="87.8" r="1.25" fill="#f0a014" stroke="#111" stroke-width="0.75"/><circle cx="231.2" cy="88.9" r="1.25" fill="#f0a014" stroke="#111" stroke-width="0.75"/><circle cx="233.6" cy="86.1" r="1.25" fill="#f0a014" stroke="#111" stroke-width="0.75"/><circle cx="236.0" cy="85.8" r="1.25" fill="#f0a014" stroke="#111" stroke-width="0.75"/><circle cx="235.8" cy="88.0" r="1.25" fill="#f0a014" stroke="#111" stroke-width="0.75"/><circle cx="234.4" cy="90.6" r="1.25" fill="#f0a014" stroke="#111" stroke-width="0.75"/><circle cx="236.5" cy="91.1" r="1.25" fill="#f0a014" stroke="#111" stroke-width="0.75"/><circle cx="226.8" cy="90.6" r="1.25" fill="#f0a014" stroke="#111" stroke-width="0.75"/><circle cx="230.3" cy="91.1" r="1.25" fill="#f0a014" stroke="#111" stroke-width="0.75"/><circle cx="231.6" cy="93.3" r="1.25" fill="#f0a014" stroke="#111" stroke-width="0.75"/><circle cx="235.0" cy="93.5" r="1.25" fill="#f0a014" stroke="#111" stroke-width="0.75"/><circle cx="240.2" cy="89.8" r="1.25" fill="#f0a014" stroke="#111" stroke-width="0.75"/><circle cx="243.5" cy="90.6" r="1.25" fill="#f0a014" stroke="#111" stroke-width="0.75"/><circle cx="241.3" cy="92.4" r="1.25" fill="#f0a014" stroke="#111" stroke-width="0.75"/><circle cx="242.1" cy="94.3" r="1.25" fill="#f0a014" stroke="#111" stroke-width="0.75"/><circle cx="243.9" cy="94.6" r="1.25" fill="#f0a014" stroke="#111" stroke-width="0.75"/><circle cx="245.6" cy="87.8" r="1.25" fill="#f0a014" stroke="#111" stroke-width="0.75"/><circle cx="248.7" cy="83.2" r="1.25" fill="#f0a014" stroke="#111" stroke-width="0.75"/><circle cx="251.1" cy="82.9" r="1.25" fill="#f0a014" stroke="#111" stroke-width="0.75"/><circle cx="249.9" cy="85.4" r="1.25" fill="#f0a014" stroke="#111" stroke-width="0.75"/><circle cx="250.9" cy="87.1" r="1.25" fill="#f0a014" stroke="#111" stroke-width="0.75"/><circle cx="248.7" cy="88.9" r="1.25" fill="#f0a014" stroke="#111" stroke-width="0.75"/><circle cx="250.0" cy="91.5" r="1.25" fill="#f0a014" stroke="#111" stroke-width="0.75"/><circle cx="254.2" cy="88.0" r="1.25" fill="#f0a014" stroke="#111" stroke-width="0.75"/><circle cx="258.3" cy="82.6" r="1.25" fill="#f0a014" stroke="#111" stroke-width="0.75"/><circle cx="264.9" cy="83.5" r="1.25" fill="#f0a014" stroke="#111" stroke-width="0.75"/><circle cx="248.7" cy="98.5" r="1.25" fill="#f0a014" stroke="#111" stroke-width="0.75"/><circle cx="248.7" cy="102.0" r="1.25" fill="#f0a014" stroke="#111" stroke-width="0.75"/><circle cx="251.8" cy="105.1" r="1.25" fill="#f0a014" stroke="#111" stroke-width="0.75"/><circle cx="239.5" cy="83.5" r="1.25" fill="#f0a014" stroke="#111" stroke-width="0.75"/><circle cx="246.0" cy="81.5" r="1.25" fill="#f0a014" stroke="#111" stroke-width="0.75"/></g>
</g>
<rect x="50.4" y="9.2" width="333.2" height="154.4" fill="none" stroke="#222" stroke-width="0.9" class="fr"/>
<line x1="50.4" y1="163.6" x2="50.4" y2="167.1" stroke="#111" stroke-width="0.8" />
<text x="50.7" y="178.9" font-size="11.1" text-anchor="middle" fill="#111">-7<tspan dx="2.0">°</tspan><tspan dx="-1.4">W</tspan></text>
<line x1="96.81" y1="163.6" x2="96.81" y2="167.1" stroke="#111" stroke-width="0.8" />
<text x="97.11" y="178.9" font-size="11.1" text-anchor="middle" fill="#111">-4<tspan dx="2.0">°</tspan><tspan dx="-1.4">W</tspan></text>
<line x1="143.22" y1="163.6" x2="143.22" y2="167.1" stroke="#111" stroke-width="0.8" />
<text x="143.52" y="178.9" font-size="11.1" text-anchor="middle" fill="#111">-1<tspan dx="2.0">°</tspan><tspan dx="-1.4">W</tspan></text>
<line x1="189.63" y1="163.6" x2="189.63" y2="167.1" stroke="#111" stroke-width="0.8" />
<text x="189.93" y="178.9" font-size="11.1" text-anchor="middle" fill="#111">2<tspan dx="2.0">°</tspan><tspan dx="-1.4">E</tspan></text>
<line x1="236.04" y1="163.6" x2="236.04" y2="167.1" stroke="#111" stroke-width="0.8" />
<text x="236.34" y="178.9" font-size="11.1" text-anchor="middle" fill="#111">5<tspan dx="2.0">°</tspan><tspan dx="-1.4">E</tspan></text>
<line x1="282.45" y1="163.6" x2="282.45" y2="167.1" stroke="#111" stroke-width="0.8" />
<text x="282.75" y="178.9" font-size="11.1" text-anchor="middle" fill="#111">8<tspan dx="2.0">°</tspan><tspan dx="-1.4">E</tspan></text>
<line x1="328.86" y1="163.6" x2="328.86" y2="167.1" stroke="#111" stroke-width="0.8" />
<text x="329.16" y="178.9" font-size="11.1" text-anchor="middle" fill="#111">11<tspan dx="2.0">°</tspan><tspan dx="-1.4">E</tspan></text>
<line x1="46.9" y1="163.6" x2="50.4" y2="163.6" stroke="#111" stroke-width="0.8" />
<text x="43.2" y="167.5" font-size="11.1" text-anchor="end" fill="#111">47<tspan dx="2.0">°</tspan><tspan dx="-1.4">N</tspan></text>
<line x1="46.9" y1="117.31" x2="50.4" y2="117.31" stroke="#111" stroke-width="0.8" />
<text x="43.2" y="121.21" font-size="11.1" text-anchor="end" fill="#111">50<tspan dx="2.0">°</tspan><tspan dx="-1.4">N</tspan></text>
<line x1="46.9" y1="71.02" x2="50.4" y2="71.02" stroke="#111" stroke-width="0.8" />
<text x="43.2" y="74.92" font-size="11.1" text-anchor="end" fill="#111">53<tspan dx="2.0">°</tspan><tspan dx="-1.4">N</tspan></text>
<line x1="46.9" y1="24.73" x2="50.4" y2="24.73" stroke="#111" stroke-width="0.8" />
<text x="43.2" y="28.63" font-size="11.1" text-anchor="end" fill="#111">56<tspan dx="2.0">°</tspan><tspan dx="-1.4">N</tspan></text>
<text x="217" y="195.2" font-size="13.7" text-anchor="middle" fill="#111">Longitude</text>
<text x="9.6" y="86.2" font-size="13.7" text-anchor="middle" fill="#111" transform="rotate(-90 9.6 86.2)">Latitude</text>
<text x="3.2" y="9.6" font-size="17.5" font-weight="bold" stroke="#000" stroke-width="0.45">a</text>
<line x1="471.4" y1="106.05" x2="681.4" y2="106.05" stroke="#c8c8c8" stroke-width="0.8" stroke-dasharray="4,2.6"/>
<line x1="471.4" y1="49.1" x2="681.4" y2="49.1" stroke="#c8c8c8" stroke-width="0.8" stroke-dasharray="4,2.6"/>
<rect x="481.15" y="49.1" width="6.45" height="114" fill="#4f86c0" stroke="#2a2a2a" stroke-width="0.8"/>
<rect x="487.6" y="106.05" width="6.45" height="57.05" fill="#c94c5a" stroke="#2a2a2a" stroke-width="0.8"/>
<rect x="497.28" y="104.15" width="6.45" height="58.95" fill="#4f86c0" stroke="#2a2a2a" stroke-width="0.8"/>
<rect x="503.73" y="137.98" width="6.45" height="25.12" fill="#c94c5a" stroke="#2a2a2a" stroke-width="0.8"/>
<rect x="519.86" y="77.28" width="6.45" height="85.82" fill="#c94c5a" stroke="#2a2a2a" stroke-width="0.8"/>
<rect x="535.99" y="156.51" width="6.45" height="6.59" fill="#c94c5a" stroke="#2a2a2a" stroke-width="0.8"/>
<rect x="552.12" y="156.51" width="6.45" height="6.59" fill="#c94c5a" stroke="#2a2a2a" stroke-width="0.8"/>
<rect x="561.8" y="71.76" width="6.45" height="91.34" fill="#4f86c0" stroke="#2a2a2a" stroke-width="0.8"/>
<rect x="568.25" y="149.88" width="6.45" height="13.22" fill="#c94c5a" stroke="#2a2a2a" stroke-width="0.8"/>
<rect x="577.93" y="48.37" width="6.45" height="114.73" fill="#4f86c0" stroke="#2a2a2a" stroke-width="0.8"/>
<rect x="584.38" y="150.61" width="6.45" height="12.49" fill="#c94c5a" stroke="#2a2a2a" stroke-width="0.8"/>
<rect x="594.06" y="14.81" width="6.45" height="148.29" fill="#4f86c0" stroke="#2a2a2a" stroke-width="0.8"/>
<rect x="610.19" y="76.52" width="6.45" height="86.58" fill="#4f86c0" stroke="#2a2a2a" stroke-width="0.8"/>
<rect x="626.32" y="50.37" width="6.45" height="112.73" fill="#4f86c0" stroke="#2a2a2a" stroke-width="0.8"/>
<rect x="642.45" y="145.01" width="6.45" height="18.09" fill="#4f86c0" stroke="#2a2a2a" stroke-width="0.8"/>
<rect x="658.58" y="65.75" width="6.45" height="97.35" fill="#4f86c0" stroke="#2a2a2a" stroke-width="0.8"/>
<rect x="471.4" y="7.8" width="210" height="155.3" fill="none" stroke="#222" stroke-width="0.9" class="fr"/>
<line x1="467.9" y1="163" x2="471.4" y2="163" stroke="#222" stroke-width="0.8" />
<text x="460.3" y="167.2" font-size="10.3" text-anchor="end" fill="#111">10</text>
<text x="460.6" y="162.7" font-size="7.2" fill="#111">3</text>
<line x1="467.9" y1="106.05" x2="471.4" y2="106.05" stroke="#222" stroke-width="0.8" />
<text x="460.3" y="110.25" font-size="10.3" text-anchor="end" fill="#111">10</text>
<text x="460.6" y="105.75" font-size="7.2" fill="#111">4</text>
<line x1="467.9" y1="49.1" x2="471.4" y2="49.1" stroke="#222" stroke-width="0.8" />
<text x="460.3" y="53.3" font-size="10.3" text-anchor="end" fill="#111">10</text>
<text x="460.6" y="48.8" font-size="7.2" fill="#111">5</text>
<line x1="469.4" y1="145.86" x2="471.4" y2="145.86" stroke="#222" stroke-width="0.6" />
<line x1="469.4" y1="135.83" x2="471.4" y2="135.83" stroke="#222" stroke-width="0.6" />
<line x1="469.4" y1="128.71" x2="471.4" y2="128.71" stroke="#222" stroke-width="0.6" />
<line x1="469.4" y1="123.19" x2="471.4" y2="123.19" stroke="#222" stroke-width="0.6" />
<line x1="469.4" y1="118.68" x2="471.4" y2="118.68" stroke="#222" stroke-width="0.6" />
<line x1="469.4" y1="114.87" x2="471.4" y2="114.87" stroke="#222" stroke-width="0.6" />
<line x1="469.4" y1="111.57" x2="471.4" y2="111.57" stroke="#222" stroke-width="0.6" />
<line x1="469.4" y1="108.66" x2="471.4" y2="108.66" stroke="#222" stroke-width="0.6" />
<line x1="469.4" y1="88.91" x2="471.4" y2="88.91" stroke="#222" stroke-width="0.6" />
<line x1="469.4" y1="78.88" x2="471.4" y2="78.88" stroke="#222" stroke-width="0.6" />
<line x1="469.4" y1="71.76" x2="471.4" y2="71.76" stroke="#222" stroke-width="0.6" />
<line x1="469.4" y1="66.24" x2="471.4" y2="66.24" stroke="#222" stroke-width="0.6" />
<line x1="469.4" y1="61.73" x2="471.4" y2="61.73" stroke="#222" stroke-width="0.6" />
<line x1="469.4" y1="57.92" x2="471.4" y2="57.92" stroke="#222" stroke-width="0.6" />
<line x1="469.4" y1="54.62" x2="471.4" y2="54.62" stroke="#222" stroke-width="0.6" />
<line x1="469.4" y1="51.71" x2="471.4" y2="51.71" stroke="#222" stroke-width="0.6" />
<line x1="469.4" y1="31.96" x2="471.4" y2="31.96" stroke="#222" stroke-width="0.6" />
<line x1="469.4" y1="21.93" x2="471.4" y2="21.93" stroke="#222" stroke-width="0.6" />
<line x1="469.4" y1="14.81" x2="471.4" y2="14.81" stroke="#222" stroke-width="0.6" />
<line x1="469.4" y1="9.29" x2="471.4" y2="9.29" stroke="#222" stroke-width="0.6" />
<line x1="487.6" y1="163.1" x2="487.6" y2="166.6" stroke="#222" stroke-width="0.8" />
<text x="487.6" y="176.16" font-size="11" text-anchor="middle" fill="#111" dominant-baseline="central" transform="rotate(-45 487.6 176.16)">50</text>
<line x1="503.73" y1="163.1" x2="503.73" y2="166.6" stroke="#222" stroke-width="0.8" />
<text x="503.73" y="176.16" font-size="11" text-anchor="middle" fill="#111" dominant-baseline="central" transform="rotate(-45 503.73 176.16)">60</text>
<line x1="519.86" y1="163.1" x2="519.86" y2="166.6" stroke="#222" stroke-width="0.8" />
<text x="519.86" y="176.16" font-size="11" text-anchor="middle" fill="#111" dominant-baseline="central" transform="rotate(-45 519.86 176.16)">70</text>
<line x1="535.99" y1="163.1" x2="535.99" y2="166.6" stroke="#222" stroke-width="0.8" />
<text x="535.99" y="176.16" font-size="11" text-anchor="middle" fill="#111" dominant-baseline="central" transform="rotate(-45 535.99 176.16)">75</text>
<line x1="552.12" y1="163.1" x2="552.12" y2="166.6" stroke="#222" stroke-width="0.8" />
<text x="552.12" y="178.32" font-size="11" text-anchor="middle" fill="#111" dominant-baseline="central" transform="rotate(-45 552.12 178.32)">100</text>
<line x1="568.25" y1="163.1" x2="568.25" y2="166.6" stroke="#222" stroke-width="0.8" />
<text x="568.25" y="178.32" font-size="11" text-anchor="middle" fill="#111" dominant-baseline="central" transform="rotate(-45 568.25 178.32)">120</text>
<line x1="584.38" y1="163.1" x2="584.38" y2="166.6" stroke="#222" stroke-width="0.8" />
<text x="584.38" y="178.32" font-size="11" text-anchor="middle" fill="#111" dominant-baseline="central" transform="rotate(-45 584.38 178.32)">150</text>
<line x1="600.51" y1="163.1" x2="600.51" y2="166.6" stroke="#222" stroke-width="0.8" />
<text x="600.51" y="178.32" font-size="11" text-anchor="middle" fill="#111" dominant-baseline="central" transform="rotate(-45 600.51 178.32)">175</text>
<line x1="616.64" y1="163.1" x2="616.64" y2="166.6" stroke="#222" stroke-width="0.8" />
<text x="616.64" y="178.32" font-size="11" text-anchor="middle" fill="#111" dominant-baseline="central" transform="rotate(-45 616.64 178.32)">180</text>
<line x1="632.77" y1="163.1" x2="632.77" y2="166.6" stroke="#222" stroke-width="0.8" />
<text x="632.77" y="178.32" font-size="11" text-anchor="middle" fill="#111" dominant-baseline="central" transform="rotate(-45 632.77 178.32)">300</text>
<line x1="648.9" y1="163.1" x2="648.9" y2="166.6" stroke="#222" stroke-width="0.8" />
<text x="648.9" y="178.32" font-size="11" text-anchor="middle" fill="#111" dominant-baseline="central" transform="rotate(-45 648.9 178.32)">350</text>
<line x1="665.03" y1="163.1" x2="665.03" y2="166.6" stroke="#222" stroke-width="0.8" />
<text x="665.03" y="178.32" font-size="11" text-anchor="middle" fill="#111" dominant-baseline="central" transform="rotate(-45 665.03 178.32)">360</text>
<rect x="481.2" y="17.5" width="23.3" height="8" fill="#4f86c0" stroke="#2a2a2a" stroke-width="0.8"/>
<rect x="481.2" y="33.6" width="23.3" height="8" fill="#c94c5a" stroke="#2a2a2a" stroke-width="0.8"/>
<text x="513.3" y="25.6" font-size="11" fill="#111">Type 2 CCS</text>
<text x="513.3" y="41.6" font-size="11" fill="#111">CHAdeMO</text>
<text x="576" y="201.6" font-size="11.2" text-anchor="middle" fill="#111">Connector power rating (kW)</text>
<text x="444.2" y="85.5" font-size="11.2" text-anchor="middle" fill="#111" transform="rotate(-90 444.2 85.5)">Number of sessions</text>
<text x="395.7" y="12.9" font-size="17.5" font-weight="bold" stroke="#000" stroke-width="0.45">b</text>
<path d="M54.6,240.6 C99.8,240.6 99.8,262.5 145,262.5 L145,264.3 C99.8,264.3 99.8,242.4 54.6,242.4 Z" fill="url(#gcyo)" fill-opacity="0.4"/>
<path d="M54.6,245.2 C99.8,245.2 99.8,244.3 145,244.3 L145,245.7 C99.8,245.7 99.8,246.6 54.6,246.6 Z" fill="url(#gcy)" fill-opacity="0.45"/>
<path d="M54.6,246.6 C99.8,246.6 99.8,264.3 145,264.3 L145,266.3 C99.8,266.3 99.8,248.6 54.6,248.6 Z" fill="url(#gcy)" fill-opacity="0.45"/>
<path d="M54.6,248.6 C99.8,248.6 99.8,316.2 145,316.2 L145,348.2 C99.8,348.2 99.8,280.6 54.6,280.6 Z" fill="url(#gcy)" fill-opacity="0.45"/>
<path d="M54.6,285.2 C99.8,285.2 99.8,240.6 145,240.6 L145,241.8 C99.8,241.8 99.8,286.4 54.6,286.4 Z" fill="url(#gcy)" fill-opacity="0.45"/>
<path d="M54.6,286.4 C99.8,286.4 99.8,245.7 145,245.7 L145,260.2 C99.8,260.2 99.8,301 54.6,301 Z" fill="url(#gcy)" fill-opacity="0.45"/>
<path d="M54.6,301 C99.8,301 99.8,266.3 145,266.3 L145,313.7 C99.8,313.7 99.8,348 54.6,348 Z" fill="url(#gcy)" fill-opacity="0.45"/>
<path d="M54.6,348 C99.8,348 99.8,348.2 145,348.2 L145,395 C99.8,395 99.8,394.4 54.6,394.4 Z" fill="url(#gcy)" fill-opacity="0.45"/>
<path d="M156.8,240.6 C203.6,240.6 203.6,240.2 250.4,240.2 L250.4,241.9 C203.6,241.9 203.6,242.3 156.8,242.3 Z" fill="url(#gyc)" fill-opacity="0.45"/>
<path d="M156.8,244.3 C203.6,244.3 203.6,241.9 250.4,241.9 L250.4,249.6 C203.6,249.6 203.6,252 156.8,252 Z" fill="url(#gyc)" fill-opacity="0.45"/>
<path d="M156.8,252 C203.6,252 203.6,271.2 250.4,271.2 L250.4,279.4 C203.6,279.4 203.6,260.2 156.8,260.2 Z" fill="url(#gyc)" fill-opacity="0.45"/>
<path d="M156.8,262.5 C203.6,262.5 203.6,249.6 250.4,249.6 L250.4,253.5 C203.6,253.5 203.6,266.5 156.8,266.5 Z" fill="url(#gyc)" fill-opacity="0.45"/>
<path d="M156.8,266.5 C203.6,266.5 203.6,279.4 250.4,279.4 L250.4,320 C203.6,320 203.6,312.7 156.8,312.7 Z" fill="url(#gyc)" fill-opacity="0.45"/>
<path d="M156.8,312.7 C203.6,312.7 203.6,368.2 250.4,368.2 L250.4,369.2 C203.6,369.2 203.6,313.7 156.8,313.7 Z" fill="url(#gyc)" fill-opacity="0.45"/>
<path d="M156.8,316.2 C203.6,316.2 203.6,253.5 250.4,253.5 L250.4,265.4 C203.6,265.4 203.6,328.1 156.8,328.1 Z" fill="url(#gyc)" fill-opacity="0.45"/>
<path d="M156.8,328.1 C203.6,328.1 203.6,320 250.4,320 L250.4,362.4 C203.6,362.4 203.6,370.5 156.8,370.5 Z" fill="url(#gyc)" fill-opacity="0.45"/>
<path d="M156.8,370.5 C203.6,370.5 203.6,369.2 250.4,369.2 L250.4,394.2 C203.6,394.2 203.6,395 156.8,395 Z" fill="url(#gyc)" fill-opacity="0.45"/>
<path d="M261.6,240.2 C308.5,240.2 308.5,240 355.4,240 L355.4,247 C308.5,247 308.5,247.2 261.6,247.2 Z" fill="url(#gce)" fill-opacity="0.45"/>
<path d="M261.6,247.2 C308.5,247.2 308.5,263 355.4,263 L355.4,273 C308.5,273 308.5,257.2 261.6,257.2 Z" fill="url(#gce)" fill-opacity="0.45"/>
<path d="M261.6,257.2 C308.5,257.2 308.5,330.4 355.4,330.4 L355.4,338.6 C308.5,338.6 308.5,265.4 261.6,265.4 Z" fill="url(#gce)" fill-opacity="0.45"/>
<path d="M261.6,271.2 C308.5,271.2 308.5,247 355.4,247 L355.4,255 C308.5,255 308.5,279.2 261.6,279.2 Z" fill="url(#gce)" fill-opacity="0.45"/>
<path d="M261.6,279.2 C308.5,279.2 308.5,273 355.4,273 L355.4,316 C308.5,316 308.5,322.2 261.6,322.2 Z" fill="url(#gce)" fill-opacity="0.45"/>
<path d="M261.6,322.2 C308.5,322.2 308.5,338.6 355.4,338.6 L355.4,378.8 C308.5,378.8 308.5,362.4 261.6,362.4 Z" fill="url(#gce)" fill-opacity="0.45"/>
<path d="M261.6,368.2 C308.5,368.2 308.5,255 355.4,255 L355.4,257.6 C308.5,257.6 308.5,370.8 261.6,370.8 Z" fill="url(#gce)" fill-opacity="0.45"/>
<path d="M261.6,370.8 C308.5,370.8 308.5,316 355.4,316 L355.4,324.4 C308.5,324.4 308.5,379.2 261.6,379.2 Z" fill="url(#gce)" fill-opacity="0.45"/>
<path d="M261.6,379.2 C308.5,379.2 308.5,378.8 355.4,378.8 L355.4,395.5 C308.5,395.5 308.5,394.2 261.6,394.2 Z" fill="url(#gce)" fill-opacity="0.45"/>
<rect x="43.1" y="240.6" width="11.4" height="2" fill="#d9a13a" stroke="#3a2a10" stroke-width="0.6"/>
<rect x="43.3" y="245.7" width="11" height="34.4" fill="#82aa1a" stroke="#1a1a1a" stroke-width="1"/>
<rect x="43.3" y="285.7" width="11" height="108.2" fill="#82aa1a" stroke="#1a1a1a" stroke-width="1"/>
<rect x="145.5" y="240.9" width="10.8" height="1" fill="#9a9a9a" stroke="#1a1a1a" stroke-width="1"/>
<rect x="145.5" y="244.8" width="10.8" height="15" fill="#9a9a9a" stroke="#1a1a1a" stroke-width="1"/>
<rect x="145.5" y="263" width="10.8" height="50.2" fill="#9a9a9a" stroke="#1a1a1a" stroke-width="1"/>
<rect x="145.5" y="316.7" width="10.8" height="77.8" fill="#9a9a9a" stroke="#1a1a1a" stroke-width="1"/>
<rect x="250.9" y="240.7" width="10.2" height="24.2" fill="#9cc8e2" stroke="#1a1a1a" stroke-width="1"/>
<rect x="250.9" y="271.7" width="10.2" height="90.2" fill="#72a3cf" stroke="#1a1a1a" stroke-width="1"/>
<rect x="250.9" y="368.7" width="10.2" height="25" fill="#627b9c" stroke="#1a1a1a" stroke-width="1"/>
<rect x="355.9" y="240.5" width="10.2" height="16.6" fill="#fcd5c3" stroke="#1a1a1a" stroke-width="1"/>
<rect x="355.9" y="263.5" width="10.2" height="60.4" fill="#de8585" stroke="#1a1a1a" stroke-width="1"/>
<rect x="355.9" y="330.9" width="10.2" height="64.1" fill="#a25f73" stroke="#1a1a1a" stroke-width="1"/>
<text x="56.6" y="244.2" font-size="9.25" fill="#111">Netherlands (0.9%)</text>
<text x="56.6" y="265.6" font-size="9.25" fill="#111">Germany (22%)</text>
<text x="83.2" y="340.4" font-size="9.25" text-anchor="middle" fill="#111">Great Britain</text>
<text x="83.2" y="350.4" font-size="9.25" text-anchor="middle" fill="#111">(77.1%)</text>
<text x="160.8" y="244.4" font-size="9.25" fill="#111">2021 (0.01%)</text>
<text x="160.8" y="256.9" font-size="9.25" fill="#111">2022 (11.2%)</text>
<text x="160.8" y="292.4" font-size="9.25" fill="#111">2023 (36.3%)</text>
<text x="160.8" y="360.4" font-size="9.25" fill="#111">2024 (52.4%)</text>
<text x="282.2" y="251.4" font-size="9.25" text-anchor="middle" fill="#111">≤120 kW</text>
<text x="282.2" y="259.6" font-size="9.25" text-anchor="middle" fill="#111">(22.3%)</text>
<text x="288.8" y="313.4" font-size="9.25" text-anchor="middle" fill="#111">150-180 kW</text>
<text x="288.8" y="321.8" font-size="9.25" text-anchor="middle" fill="#111">(44.8%)</text>
<text x="282.4" y="384" font-size="9.25" text-anchor="middle" fill="#111">≥300 kW</text>
<text x="282.4" y="392.2" font-size="9.25" text-anchor="middle" fill="#111">(16.5%)</text>
<text x="336" y="251.3" font-size="9.25" text-anchor="middle" fill="#111">&lt;20 kWh</text>
<text x="336" y="259.5" font-size="9.25" text-anchor="middle" fill="#111">(27.6%)</text>
<text x="331.6" y="291.3" font-size="9.25" text-anchor="middle" fill="#111">20-40 kWh</text>
<text x="332" y="299.5" font-size="9.25" text-anchor="middle" fill="#111">(44.4%)</text>
<text x="335.8" y="359.4" font-size="9.25" text-anchor="middle" fill="#111">≥40 kWh</text>
<text x="335.8" y="367.6" font-size="9.25" text-anchor="middle" fill="#111">(27.6%)</text>
<text x="48.8" y="233" font-size="12.35" text-anchor="middle" fill="#111">Country</text>
<text x="150.8" y="233" font-size="12.35" text-anchor="middle" fill="#111">Year</text>
<text x="256.5" y="222.1" font-size="12.35" text-anchor="middle" fill="#111">Connector</text>
<text x="257.5" y="232.6" font-size="12.35" text-anchor="middle" fill="#111">power rating</text>
<text x="356.9" y="222.1" font-size="12.35" text-anchor="middle" fill="#111">Energy</text>
<text x="358.4" y="232.6" font-size="12.35" text-anchor="middle" fill="#111">delivered</text>
<text x="3.4" y="222" font-size="17.5" font-weight="bold" stroke="#000" stroke-width="0.45">c</text>
<line x1="471" y1="341.4" x2="681.4" y2="341.4" stroke="#c8c8c8" stroke-width="0.8" stroke-dasharray="4,2.6"/>
<line x1="471" y1="315.4" x2="681.4" y2="315.4" stroke="#c8c8c8" stroke-width="0.8" stroke-dasharray="4,2.6"/>
<line x1="471" y1="289.4" x2="681.4" y2="289.4" stroke="#c8c8c8" stroke-width="0.8" stroke-dasharray="4,2.6"/>
<line x1="471" y1="263.4" x2="681.4" y2="263.4" stroke="#c8c8c8" stroke-width="0.8" stroke-dasharray="4,2.6"/>
<line x1="471" y1="237.4" x2="681.4" y2="237.4" stroke="#c8c8c8" stroke-width="0.8" stroke-dasharray="4,2.6"/>
<path d="M497.6,264 C497.8,264.5 498.22,265.83 498.8,267 C499.38,268.17 499.88,269.33 501.1,271 C502.32,272.67 504.68,275.33 506.1,277 C507.52,278.67 508.8,279.67 509.6,281 C510.4,282.33 510.6,283.6 510.9,285 C511.2,286.4 511.37,288.07 511.4,289.4 C511.43,290.73 511.27,291.9 511.1,293 C510.93,294.1 510.9,294.83 510.4,296 C509.9,297.17 508.43,298.83 508.1,300 C507.77,301.17 508.27,302 508.4,303 C508.53,304 508.7,304.67 508.9,306 C509.1,307.33 509.45,309.4 509.6,311 C509.75,312.6 509.92,314.1 509.8,315.6 C509.68,317.1 508.93,318.77 508.9,320 C508.87,321.23 509.07,322.08 509.6,323 C510.13,323.92 510.85,324.67 512.1,325.5 C513.35,326.33 515.85,327.08 517.1,328 C518.35,328.92 519.93,330.08 519.6,331 C519.27,331.92 516.55,332.67 515.1,333.5 C513.65,334.33 512.07,334.65 510.9,336 C509.73,337.35 508.65,339.6 508.1,341.6 C507.55,343.6 508.1,346.27 507.6,348 C507.1,349.73 506.02,350.83 505.1,352 C504.18,353.17 503.35,354.07 502.1,355 C500.85,355.93 498.35,357.17 497.6,357.6 L497.6,357.6 C496.85,357.17 494.35,355.93 493.1,355 C491.85,354.07 491.02,353.17 490.1,352 C489.18,350.83 488.1,349.73 487.6,348 C487.1,346.27 487.65,343.6 487.1,341.6 C486.55,339.6 485.47,337.35 484.3,336 C483.13,334.65 481.55,334.33 480.1,333.5 C478.65,332.67 475.93,331.92 475.6,331 C475.27,330.08 476.85,328.92 478.1,328 C479.35,327.08 481.85,326.33 483.1,325.5 C484.35,324.67 485.07,323.92 485.6,323 C486.13,322.08 486.33,321.23 486.3,320 C486.27,318.77 485.52,317.1 485.4,315.6 C485.28,314.1 485.45,312.6 485.6,311 C485.75,309.4 486.1,307.33 486.3,306 C486.5,304.67 486.67,304 486.8,303 C486.93,302 487.43,301.17 487.1,300 C486.77,298.83 485.3,297.17 484.8,296 C484.3,294.83 484.27,294.1 484.1,293 C483.93,291.9 483.77,290.73 483.8,289.4 C483.83,288.07 484,286.4 484.3,285 C484.6,283.6 484.8,282.33 485.6,281 C486.4,279.67 487.68,278.67 489.1,277 C490.52,275.33 492.88,272.67 494.1,271 C495.32,269.33 495.82,268.17 496.4,267 C496.98,265.83 497.4,264.5 497.6,264 Z" fill="#c3dbeb"/>
<path d="M549.8,251 C549.97,251.83 550.47,254.33 550.8,256 C551.13,257.67 551.27,259.5 551.8,261 C552.33,262.5 552.67,263.33 554,265 C555.33,266.67 557.67,269 559.8,271 C561.93,273 564.97,275.33 566.8,277 C568.63,278.67 569.97,279.83 570.8,281 C571.63,282.17 571.8,283 571.8,284 C571.8,285 571.22,286.1 570.8,287 C570.38,287.9 569.88,288.4 569.3,289.4 C568.72,290.4 567.92,291.9 567.3,293 C566.68,294.1 566.23,294.5 565.6,296 C564.97,297.5 564.22,300 563.5,302 C562.78,304 561.67,305.73 561.3,308 C560.93,310.27 561.05,313.6 561.3,315.6 C561.55,317.6 562.83,318.6 562.8,320 C562.77,321.4 561.6,322.33 561.1,324 C560.6,325.67 560.35,328 559.8,330 C559.25,332 558.47,334.33 557.8,336 C557.13,337.67 556.5,338.33 555.8,340 C555.1,341.67 554.23,344 553.6,346 C552.97,348 552.5,350.17 552,352 C551.5,353.83 550.97,355.92 550.6,357 C550.23,358.08 549.93,358.25 549.8,358.5 L549.8,358.5 C549.67,358.25 549.37,358.08 549,357 C548.63,355.92 548.1,353.83 547.6,352 C547.1,350.17 546.63,348 546,346 C545.37,344 544.5,341.67 543.8,340 C543.1,338.33 542.47,337.67 541.8,336 C541.13,334.33 540.35,332 539.8,330 C539.25,328 539,325.67 538.5,324 C538,322.33 536.83,321.4 536.8,320 C536.77,318.6 538.05,317.6 538.3,315.6 C538.55,313.6 538.67,310.27 538.3,308 C537.93,305.73 536.82,304 536.1,302 C535.38,300 534.63,297.5 534,296 C533.37,294.5 532.92,294.1 532.3,293 C531.68,291.9 530.88,290.4 530.3,289.4 C529.72,288.4 529.22,287.9 528.8,287 C528.38,286.1 527.8,285 527.8,284 C527.8,283 527.97,282.17 528.8,281 C529.63,279.83 530.97,278.67 532.8,277 C534.63,275.33 537.67,273 539.8,271 C541.93,269 544.27,266.67 545.6,265 C546.93,263.33 547.27,262.5 547.8,261 C548.33,259.5 548.47,257.67 548.8,256 C549.13,254.33 549.63,251.83 549.8,251 Z" fill="#8bbcdc"/>
<path d="M602.4,244 C602.53,245 602.95,248.17 603.2,250 C603.45,251.83 603.62,253.17 603.9,255 C604.18,256.83 604.57,259.33 604.9,261 C605.23,262.67 604.73,263.33 605.9,265 C607.07,266.67 609.65,269 611.9,271 C614.15,273 617.35,275.33 619.4,277 C621.45,278.67 623.33,279.83 624.2,281 C625.07,282.17 624.82,283 624.6,284 C624.38,285 623.35,286 622.9,287 C622.45,288 622.18,289 621.9,290 C621.62,291 621.62,292 621.2,293 C620.78,294 619.87,294.83 619.4,296 C618.93,297.17 619.03,298.33 618.4,300 C617.77,301.67 616.18,304 615.6,306 C615.02,308 614.85,310.4 614.9,312 C614.95,313.6 616.07,314.27 615.9,315.6 C615.73,316.93 614.57,318.6 613.9,320 C613.23,321.4 612.48,322.67 611.9,324 C611.32,325.33 610.98,326.67 610.4,328 C609.82,329.33 608.98,330.67 608.4,332 C607.82,333.33 607.32,334.67 606.9,336 C606.48,337.33 606.32,338.67 605.9,340 C605.48,341.33 604.83,342.33 604.4,344 C603.97,345.67 603.63,347.83 603.3,350 C602.97,352.17 602.55,355.83 602.4,357 L602.4,357 C602.25,355.83 601.83,352.17 601.5,350 C601.17,347.83 600.83,345.67 600.4,344 C599.97,342.33 599.32,341.33 598.9,340 C598.48,338.67 598.32,337.33 597.9,336 C597.48,334.67 596.98,333.33 596.4,332 C595.82,330.67 594.98,329.33 594.4,328 C593.82,326.67 593.48,325.33 592.9,324 C592.32,322.67 591.57,321.4 590.9,320 C590.23,318.6 589.07,316.93 588.9,315.6 C588.73,314.27 589.85,313.6 589.9,312 C589.95,310.4 589.78,308 589.2,306 C588.62,304 587.03,301.67 586.4,300 C585.77,298.33 585.87,297.17 585.4,296 C584.93,294.83 584.02,294 583.6,293 C583.18,292 583.18,291 582.9,290 C582.62,289 582.35,288 581.9,287 C581.45,286 580.42,285 580.2,284 C579.98,283 579.73,282.17 580.6,281 C581.47,279.83 583.35,278.67 585.4,277 C587.45,275.33 590.65,273 592.9,271 C595.15,269 597.73,266.67 598.9,265 C600.07,263.33 599.57,262.67 599.9,261 C600.23,259.33 600.62,256.83 600.9,255 C601.18,253.17 601.35,251.83 601.6,250 C601.85,248.17 602.27,245 602.4,244 Z" fill="#6496c8"/>
<path d="M655,241.4 C655.17,242.62 655.75,246.27 656,248.7 C656.25,251.13 656.37,254.05 656.5,256 C656.63,257.95 656.5,259.18 656.8,260.4 C657.1,261.62 657.43,262.08 658.3,263.3 C659.17,264.52 660.67,266.25 662,267.7 C663.33,269.15 664.73,270.55 666.3,272 C667.87,273.45 669.88,275.07 671.4,276.4 C672.92,277.73 674.47,278.9 675.4,280 C676.33,281.1 677.15,282.02 677,283 C676.85,283.98 675.67,284.82 674.5,285.9 C673.33,286.98 671.37,287.93 670,289.5 C668.63,291.07 667.3,293.55 666.3,295.3 C665.3,297.05 664.63,298.22 664,300 C663.37,301.78 663,304 662.5,306 C662,308 661.25,310.4 661,312 C660.75,313.6 661.17,314.27 661,315.6 C660.83,316.93 660.33,317.93 660,320 C659.67,322.07 659.33,325.67 659,328 C658.67,330.33 658.33,332 658,334 C657.67,336 657.33,338 657,340 C656.67,342 656.33,344.17 656,346 C655.67,347.83 655.17,350.17 655,351 L655,351 C654.83,350.17 654.33,347.83 654,346 C653.67,344.17 653.33,342 653,340 C652.67,338 652.33,336 652,334 C651.67,332 651.33,330.33 651,328 C650.67,325.67 650.33,322.07 650,320 C649.67,317.93 649.17,316.93 649,315.6 C648.83,314.27 649.25,313.6 649,312 C648.75,310.4 648,308 647.5,306 C647,304 646.63,301.78 646,300 C645.37,298.22 644.7,297.05 643.7,295.3 C642.7,293.55 641.37,291.07 640,289.5 C638.63,287.93 636.67,286.98 635.5,285.9 C634.33,284.82 633.15,283.98 633,283 C632.85,282.02 633.67,281.1 634.6,280 C635.53,278.9 637.08,277.73 638.6,276.4 C640.12,275.07 642.13,273.45 643.7,272 C645.27,270.55 646.67,269.15 648,267.7 C649.33,266.25 650.83,264.52 651.7,263.3 C652.57,262.08 652.9,261.62 653.2,260.4 C653.5,259.18 653.37,257.95 653.5,256 C653.63,254.05 653.75,251.13 654,248.7 C654.25,246.27 654.83,242.62 655,241.4 Z" fill="#4e6e96"/>
<line x1="497.6" y1="220" x2="497.6" y2="357.6" stroke="#111" stroke-width="1" />
<rect x="495.85" y="293.6" width="3.5" height="38" fill="#fff" stroke="#111" stroke-width="0.9"/>
<line x1="495.7" y1="314.4" x2="499.5" y2="314.4" stroke="#111" stroke-width="1.8" />
<line x1="497.6" y1="219.2" x2="497.6" y2="220.8" stroke="#111" stroke-width="2.2" />
<line x1="549.8" y1="218" x2="549.8" y2="358" stroke="#111" stroke-width="1" />
<rect x="548.05" y="284.4" width="3.5" height="34.6" fill="#fff" stroke="#111" stroke-width="0.9"/>
<line x1="547.9" y1="297.6" x2="551.7" y2="297.6" stroke="#111" stroke-width="1.8" />
<line x1="549.8" y1="217.2" x2="549.8" y2="218.8" stroke="#111" stroke-width="2.2" />
<line x1="602.4" y1="224" x2="602.4" y2="357" stroke="#111" stroke-width="1" />
<rect x="600.65" y="282.2" width="3.5" height="29.2" fill="#fff" stroke="#111" stroke-width="0.9"/>
<line x1="600.5" y1="293.6" x2="604.3" y2="293.6" stroke="#111" stroke-width="1.8" />
<line x1="602.4" y1="223.2" x2="602.4" y2="224.8" stroke="#111" stroke-width="2.2" />
<line x1="655" y1="232" x2="655" y2="357" stroke="#111" stroke-width="1" />
<rect x="653.25" y="279.6" width="3.5" height="23.8" fill="#fff" stroke="#111" stroke-width="0.9"/>
<line x1="653.1" y1="287.3" x2="656.9" y2="287.3" stroke="#111" stroke-width="1.8" />
<line x1="655" y1="231.2" x2="655" y2="232.8" stroke="#111" stroke-width="2.2" />
<line x1="497.6" y1="216.5" x2="497.6" y2="218" stroke="#999" stroke-width="0.8" stroke-dasharray="1,1"/>
<line x1="549.8" y1="214.5" x2="549.8" y2="216.5" stroke="#999" stroke-width="0.8" stroke-dasharray="1,1"/>
<line x1="602.4" y1="213.5" x2="602.4" y2="223" stroke="#999" stroke-width="0.8" stroke-dasharray="1,1"/>
<line x1="655" y1="213.5" x2="655" y2="231" stroke="#999" stroke-width="0.8" stroke-dasharray="1,1"/>
<rect x="471" y="211.5" width="210.4" height="155.9" fill="none" stroke="#222" stroke-width="0.9" class="fr"/>
<line x1="467.5" y1="367.4" x2="471" y2="367.4" stroke="#222" stroke-width="0.8" />
<text x="465" y="370.7" font-size="9.4" text-anchor="end" fill="#111">0</text>
<line x1="467.5" y1="341.4" x2="471" y2="341.4" stroke="#222" stroke-width="0.8" />
<text x="465" y="344.7" font-size="9.4" text-anchor="end" fill="#111">25</text>
<line x1="467.5" y1="315.4" x2="471" y2="315.4" stroke="#222" stroke-width="0.8" />
<text x="465" y="318.7" font-size="9.4" text-anchor="end" fill="#111">50</text>
<line x1="467.5" y1="289.4" x2="471" y2="289.4" stroke="#222" stroke-width="0.8" />
<text x="465" y="292.7" font-size="9.4" text-anchor="end" fill="#111">75</text>
<line x1="467.5" y1="263.4" x2="471" y2="263.4" stroke="#222" stroke-width="0.8" />
<text x="465" y="266.7" font-size="9.4" text-anchor="end" fill="#111">100</text>
<line x1="467.5" y1="237.4" x2="471" y2="237.4" stroke="#222" stroke-width="0.8" />
<text x="465" y="240.7" font-size="9.4" text-anchor="end" fill="#111">125</text>
<line x1="467.5" y1="211.4" x2="471" y2="211.4" stroke="#222" stroke-width="0.8" />
<text x="465" y="214.7" font-size="9.4" text-anchor="end" fill="#111">150</text>
<line x1="497.6" y1="367.4" x2="497.6" y2="370.9" stroke="#222" stroke-width="0.8" />
<text x="497.6" y="381.6" font-size="11" text-anchor="middle" fill="#111">&lt;75</text>
<line x1="549.8" y1="367.4" x2="549.8" y2="370.9" stroke="#222" stroke-width="0.8" />
<text x="549.8" y="381.6" font-size="11" text-anchor="middle" fill="#111">75-149</text>
<line x1="602.4" y1="367.4" x2="602.4" y2="370.9" stroke="#222" stroke-width="0.8" />
<text x="602.4" y="381.6" font-size="11" text-anchor="middle" fill="#111">150-200</text>
<line x1="655" y1="367.4" x2="655" y2="370.9" stroke="#222" stroke-width="0.8" />
<text x="655" y="381.6" font-size="11" text-anchor="middle" fill="#111">≥300</text>
<text x="576" y="396.8" font-size="11.2" text-anchor="middle" fill="#111">Connector power rating (kW)</text>
<text x="430.6" y="290" font-size="11.2" text-anchor="middle" fill="#111" transform="rotate(-90 430.6 290)">Estimated battery capacity</text>
<text x="441.6" y="290" font-size="11.2" text-anchor="middle" fill="#111" transform="rotate(-90 441.6 290)">(kWh)</text>
<text x="398" y="224" font-size="17.5" font-weight="bold" stroke="#000" stroke-width="0.45">d</text>
<rect x="298.02" y="408.5" width="27.64" height="21.94" fill="#569fc9"/>
<rect x="270.68" y="430.14" width="27.64" height="21.94" fill="#276eb0"/>
<rect x="298.02" y="430.14" width="27.64" height="21.94" fill="#f8f2ef"/>
<rect x="243.34" y="451.78" width="27.64" height="21.94" fill="#2267ac"/>
<rect x="270.68" y="451.78" width="27.64" height="21.94" fill="#d5e7f1"/>
<rect x="298.02" y="451.78" width="27.64" height="21.94" fill="#f6b394"/>
<rect x="216" y="473.42" width="27.64" height="21.94" fill="#185493"/>
<rect x="243.34" y="473.42" width="27.64" height="21.94" fill="#aed3e6"/>
<rect x="270.68" y="473.42" width="27.64" height="21.94" fill="#fcdecd"/>
<rect x="298.02" y="473.42" width="27.64" height="21.94" fill="#cc4c44"/>
<rect x="188.66" y="495.06" width="27.64" height="21.94" fill="#134c87"/>
<rect x="216" y="495.06" width="27.64" height="21.94" fill="#62a7ce"/>
<rect x="243.34" y="495.06" width="27.64" height="21.94" fill="#ddebf2"/>
<rect x="270.68" y="495.06" width="27.64" height="21.94" fill="#f2a17f"/>
<rect x="298.02" y="495.06" width="27.64" height="21.94" fill="#991027"/>
<rect x="161.32" y="516.7" width="27.64" height="21.94" fill="#134c87"/>
<rect x="188.66" y="516.7" width="27.64" height="21.94" fill="#569fc9"/>
<rect x="216" y="516.7" width="27.64" height="21.94" fill="#98c8e0"/>
<rect x="243.34" y="516.7" width="27.64" height="21.94" fill="#f0f4f6"/>
<rect x="270.68" y="516.7" width="27.64" height="21.94" fill="#e27b62"/>
<rect x="298.02" y="516.7" width="27.64" height="21.94" fill="#67001f"/>
<rect x="133.98" y="538.34" width="27.64" height="21.94" fill="#0e4179"/>
<rect x="161.32" y="538.34" width="27.64" height="21.94" fill="#4695c4"/>
<rect x="188.66" y="538.34" width="27.64" height="21.94" fill="#8dc2dc"/>
<rect x="216" y="538.34" width="27.64" height="21.94" fill="#a2cde3"/>
<rect x="243.34" y="538.34" width="27.64" height="21.94" fill="#f8f2ef"/>
<rect x="270.68" y="538.34" width="27.64" height="21.94" fill="#d25849"/>
<rect x="298.02" y="538.34" width="27.64" height="21.94" fill="#8d0c25"/>
<rect x="106.64" y="559.98" width="27.64" height="21.94" fill="#0e4179"/>
<rect x="133.98" y="559.98" width="27.64" height="21.94" fill="#3f8ec0"/>
<rect x="161.32" y="559.98" width="27.64" height="21.94" fill="#71b0d3"/>
<rect x="188.66" y="559.98" width="27.64" height="21.94" fill="#8dc2dc"/>
<rect x="216" y="559.98" width="27.64" height="21.94" fill="#98c8e0"/>
<rect x="243.34" y="559.98" width="27.64" height="21.94" fill="#f6f7f7"/>
<rect x="270.68" y="559.98" width="27.64" height="21.94" fill="#f5aa89"/>
<rect x="298.02" y="559.98" width="27.64" height="21.94" fill="#dd7059"/>
<rect x="79.3" y="581.62" width="27.64" height="21.94" fill="#053061"/>
<rect x="106.64" y="581.62" width="27.64" height="21.94" fill="#1d5fa2"/>
<rect x="133.98" y="581.62" width="27.64" height="21.94" fill="#2267ac"/>
<rect x="161.32" y="581.62" width="27.64" height="21.94" fill="#2267ac"/>
<rect x="188.66" y="581.62" width="27.64" height="21.94" fill="#2267ac"/>
<rect x="216" y="581.62" width="27.64" height="21.94" fill="#2267ac"/>
<rect x="243.34" y="581.62" width="27.64" height="21.94" fill="#3a87bd"/>
<rect x="270.68" y="581.62" width="27.64" height="21.94" fill="#4695c4"/>
<rect x="298.02" y="581.62" width="27.64" height="21.94" fill="#8dc2dc"/>
<text x="311.69" y="422.12" font-size="10.9" text-anchor="middle" fill="#fff">1.4</text>
<text x="284.35" y="443.76" font-size="10.9" text-anchor="middle" fill="#fff">0.8</text>
<text x="311.69" y="443.76" font-size="10.9" text-anchor="middle">3.1</text>
<text x="257.01" y="465.4" font-size="10.9" text-anchor="middle" fill="#fff">0.7</text>
<text x="284.35" y="465.4" font-size="10.9" text-anchor="middle">2.5</text>
<text x="311.69" y="465.4" font-size="10.9" text-anchor="middle">4.0</text>
<text x="229.67" y="487.04" font-size="10.9" text-anchor="middle" fill="#fff">0.5</text>
<text x="257.01" y="487.04" font-size="10.9" text-anchor="middle">2.1</text>
<text x="284.35" y="487.04" font-size="10.9" text-anchor="middle">3.5</text>
<text x="311.69" y="487.04" font-size="10.9" text-anchor="middle" fill="#fff">4.9</text>
<text x="202.33" y="508.68" font-size="10.9" text-anchor="middle" fill="#fff">0.4</text>
<text x="229.67" y="508.68" font-size="10.9" text-anchor="middle">1.5</text>
<text x="257.01" y="508.68" font-size="10.9" text-anchor="middle">2.6</text>
<text x="284.35" y="508.68" font-size="10.9" text-anchor="middle">4.2</text>
<text x="311.69" y="508.68" font-size="10.9" text-anchor="middle" fill="#fff">5.5</text>
<text x="174.99" y="530.32" font-size="10.9" text-anchor="middle" fill="#fff">0.4</text>
<text x="202.33" y="530.32" font-size="10.9" text-anchor="middle" fill="#fff">1.4</text>
<text x="229.67" y="530.32" font-size="10.9" text-anchor="middle">1.9</text>
<text x="257.01" y="530.32" font-size="10.9" text-anchor="middle">2.9</text>
<text x="284.35" y="530.32" font-size="10.9" text-anchor="middle" fill="#fff">4.5</text>
<text x="311.69" y="530.32" font-size="10.9" text-anchor="middle" fill="#fff">5.9</text>
<text x="147.65" y="551.96" font-size="10.9" text-anchor="middle" fill="#fff">0.3</text>
<text x="174.99" y="551.96" font-size="10.9" text-anchor="middle" fill="#fff">1.3</text>
<text x="202.33" y="551.96" font-size="10.9" text-anchor="middle">1.8</text>
<text x="229.67" y="551.96" font-size="10.9" text-anchor="middle">2.0</text>
<text x="257.01" y="551.96" font-size="10.9" text-anchor="middle">3.1</text>
<text x="284.35" y="551.96" font-size="10.9" text-anchor="middle" fill="#fff">4.8</text>
<text x="311.69" y="551.96" font-size="10.9" text-anchor="middle" fill="#fff">5.6</text>
<text x="120.31" y="573.6" font-size="10.9" text-anchor="middle" fill="#fff">0.3</text>
<text x="147.65" y="573.6" font-size="10.9" text-anchor="middle" fill="#fff">1.2</text>
<text x="174.99" y="573.6" font-size="10.9" text-anchor="middle">1.6</text>
<text x="202.33" y="573.6" font-size="10.9" text-anchor="middle">1.8</text>
<text x="229.67" y="573.6" font-size="10.9" text-anchor="middle">1.9</text>
<text x="257.01" y="573.6" font-size="10.9" text-anchor="middle">3.0</text>
<text x="284.35" y="573.6" font-size="10.9" text-anchor="middle">4.1</text>
<text x="311.69" y="573.6" font-size="10.9" text-anchor="middle" fill="#fff">4.6</text>
<text x="92.97" y="595.24" font-size="10.9" text-anchor="middle" fill="#fff">0.1</text>
<text x="120.31" y="595.24" font-size="10.9" text-anchor="middle" fill="#fff">0.6</text>
<text x="147.65" y="595.24" font-size="10.9" text-anchor="middle" fill="#fff">0.7</text>
<text x="174.99" y="595.24" font-size="10.9" text-anchor="middle" fill="#fff">0.7</text>
<text x="202.33" y="595.24" font-size="10.9" text-anchor="middle" fill="#fff">0.7</text>
<text x="229.67" y="595.24" font-size="10.9" text-anchor="middle" fill="#fff">0.7</text>
<text x="257.01" y="595.24" font-size="10.9" text-anchor="middle" fill="#fff">1.1</text>
<text x="284.35" y="595.24" font-size="10.9" text-anchor="middle" fill="#fff">1.3</text>
<text x="311.69" y="595.24" font-size="10.9" text-anchor="middle">1.8</text>
<rect x="79.3" y="408.5" width="246.06" height="194.76" fill="none" stroke="#555" stroke-width="0.9" class="fr"/>
<line x1="92.97" y1="603.26" x2="92.97" y2="606.76" stroke="#222" stroke-width="0.8" />
<text x="92.97" y="622.72" font-size="10.9" text-anchor="middle" fill="#111" dominant-baseline="central" transform="rotate(-45 92.97 622.72)">10-19</text>
<line x1="120.31" y1="603.26" x2="120.31" y2="606.76" stroke="#222" stroke-width="0.8" />
<text x="120.31" y="622.72" font-size="10.9" text-anchor="middle" fill="#111" dominant-baseline="central" transform="rotate(-45 120.31 622.72)">20-29</text>
<line x1="147.65" y1="603.26" x2="147.65" y2="606.76" stroke="#222" stroke-width="0.8" />
<text x="147.65" y="622.72" font-size="10.9" text-anchor="middle" fill="#111" dominant-baseline="central" transform="rotate(-45 147.65 622.72)">30-39</text>
<line x1="174.99" y1="603.26" x2="174.99" y2="606.76" stroke="#222" stroke-width="0.8" />
<text x="174.99" y="622.72" font-size="10.9" text-anchor="middle" fill="#111" dominant-baseline="central" transform="rotate(-45 174.99 622.72)">40-49</text>
<line x1="202.33" y1="603.26" x2="202.33" y2="606.76" stroke="#222" stroke-width="0.8" />
<text x="202.33" y="622.72" font-size="10.9" text-anchor="middle" fill="#111" dominant-baseline="central" transform="rotate(-45 202.33 622.72)">50-59</text>
<line x1="229.67" y1="603.26" x2="229.67" y2="606.76" stroke="#222" stroke-width="0.8" />
<text x="229.67" y="622.72" font-size="10.9" text-anchor="middle" fill="#111" dominant-baseline="central" transform="rotate(-45 229.67 622.72)">60-69</text>
<line x1="257.01" y1="603.26" x2="257.01" y2="606.76" stroke="#222" stroke-width="0.8" />
<text x="257.01" y="622.72" font-size="10.9" text-anchor="middle" fill="#111" dominant-baseline="central" transform="rotate(-45 257.01 622.72)">70-79</text>
<line x1="284.35" y1="603.26" x2="284.35" y2="606.76" stroke="#222" stroke-width="0.8" />
<text x="284.35" y="622.72" font-size="10.9" text-anchor="middle" fill="#111" dominant-baseline="central" transform="rotate(-45 284.35 622.72)">80-89</text>
<line x1="311.69" y1="603.26" x2="311.69" y2="606.76" stroke="#222" stroke-width="0.8" />
<text x="311.69" y="620.03" font-size="10.9" text-anchor="middle" fill="#111" dominant-baseline="central" transform="rotate(-45 311.69 620.03)">≥90</text>
<text x="202.33" y="649.6" font-size="11.2" text-anchor="middle" fill="#111">Stopping SoC (%)</text>
<rect x="602.2" y="408.5" width="27.7" height="21.94" fill="#f8bda1"/>
<rect x="574.8" y="430.14" width="27.7" height="21.94" fill="#c94741"/>
<rect x="602.2" y="430.14" width="27.7" height="21.94" fill="#f9ede5"/>
<rect x="547.4" y="451.78" width="27.7" height="21.94" fill="#ab162a"/>
<rect x="574.8" y="451.78" width="27.7" height="21.94" fill="#e37e64"/>
<rect x="602.2" y="451.78" width="27.7" height="21.94" fill="#cfe4ef"/>
<rect x="520" y="473.42" width="27.7" height="21.94" fill="#8d0c25"/>
<rect x="547.4" y="473.42" width="27.7" height="21.94" fill="#cc4c44"/>
<rect x="574.8" y="473.42" width="27.7" height="21.94" fill="#fbccb4"/>
<rect x="602.2" y="473.42" width="27.7" height="21.94" fill="#81bad8"/>
<rect x="492.6" y="495.06" width="27.7" height="21.94" fill="#760521"/>
<rect x="520" y="495.06" width="27.7" height="21.94" fill="#b41c2d"/>
<rect x="547.4" y="495.06" width="27.7" height="21.94" fill="#ea8e70"/>
<rect x="574.8" y="495.06" width="27.7" height="21.94" fill="#f9ede5"/>
<rect x="602.2" y="495.06" width="27.7" height="21.94" fill="#4997c5"/>
<rect x="465.2" y="516.7" width="27.7" height="21.94" fill="#6d0220"/>
<rect x="492.6" y="516.7" width="27.7" height="21.94" fill="#991027"/>
<rect x="520" y="516.7" width="27.7" height="21.94" fill="#d25849"/>
<rect x="547.4" y="516.7" width="27.7" height="21.94" fill="#f8bda1"/>
<rect x="574.8" y="516.7" width="27.7" height="21.94" fill="#edf2f5"/>
<rect x="602.2" y="516.7" width="27.7" height="21.94" fill="#307ab6"/>
<rect x="437.8" y="538.34" width="27.7" height="21.94" fill="#67001f"/>
<rect x="465.2" y="538.34" width="27.7" height="21.94" fill="#8a0b25"/>
<rect x="492.6" y="538.34" width="27.7" height="21.94" fill="#bf3338"/>
<rect x="520" y="538.34" width="27.7" height="21.94" fill="#e8896c"/>
<rect x="547.4" y="538.34" width="27.7" height="21.94" fill="#fdddcb"/>
<rect x="574.8" y="538.34" width="27.7" height="21.94" fill="#d7e8f1"/>
<rect x="602.2" y="538.34" width="27.7" height="21.94" fill="#1d5fa2"/>
<rect x="410.4" y="559.98" width="27.7" height="21.94" fill="#67001f"/>
<rect x="437.8" y="559.98" width="27.7" height="21.94" fill="#7c0722"/>
<rect x="465.2" y="559.98" width="27.7" height="21.94" fill="#b3192c"/>
<rect x="492.6" y="559.98" width="27.7" height="21.94" fill="#d86551"/>
<rect x="520" y="559.98" width="27.7" height="21.94" fill="#f6b191"/>
<rect x="547.4" y="559.98" width="27.7" height="21.94" fill="#f9eee7"/>
<rect x="574.8" y="559.98" width="27.7" height="21.94" fill="#bbdaea"/>
<rect x="602.2" y="559.98" width="27.7" height="21.94" fill="#0a3b70"/>
<rect x="383" y="581.62" width="27.7" height="21.94" fill="#67001f"/>
<rect x="410.4" y="581.62" width="27.7" height="21.94" fill="#760521"/>
<rect x="437.8" y="581.62" width="27.7" height="21.94" fill="#a81529"/>
<rect x="465.2" y="581.62" width="27.7" height="21.94" fill="#cf5246"/>
<rect x="492.6" y="581.62" width="27.7" height="21.94" fill="#ee9677"/>
<rect x="520" y="581.62" width="27.7" height="21.94" fill="#fcd5bf"/>
<rect x="547.4" y="581.62" width="27.7" height="21.94" fill="#f0f4f6"/>
<rect x="574.8" y="581.62" width="27.7" height="21.94" fill="#93c6de"/>
<rect x="602.2" y="581.62" width="27.7" height="21.94" fill="#053061"/>
<text x="615.9" y="422.12" font-size="10.9" text-anchor="middle">27.7</text>
<text x="588.5" y="443.76" font-size="10.9" text-anchor="middle">19.7</text>
<text x="615.9" y="443.76" font-size="10.9" text-anchor="middle">33.0</text>
<text x="561.1" y="465.4" font-size="10.9" text-anchor="middle">16.2</text>
<text x="588.5" y="465.4" font-size="10.9" text-anchor="middle">23.1</text>
<text x="615.9" y="465.4" font-size="10.9" text-anchor="middle">39.4</text>
<text x="533.7" y="487.04" font-size="10.9" text-anchor="middle">14.5</text>
<text x="561.1" y="487.04" font-size="10.9" text-anchor="middle">20.0</text>
<text x="588.5" y="487.04" font-size="10.9" text-anchor="middle">29.0</text>
<text x="615.9" y="487.04" font-size="10.9" text-anchor="middle" fill="#fff">44.8</text>
<text x="506.3" y="508.68" font-size="10.9" text-anchor="middle" fill="#fff">13.0</text>
<text x="533.7" y="508.68" font-size="10.9" text-anchor="middle">17.0</text>
<text x="561.1" y="508.68" font-size="10.9" text-anchor="middle">24.3</text>
<text x="588.5" y="508.68" font-size="10.9" text-anchor="middle">33.0</text>
<text x="615.9" y="508.68" font-size="10.9" text-anchor="middle" fill="#fff">48.0</text>
<text x="478.9" y="530.32" font-size="10.9" text-anchor="middle" fill="#fff">12.6</text>
<text x="506.3" y="530.32" font-size="10.9" text-anchor="middle">15.2</text>
<text x="533.7" y="530.32" font-size="10.9" text-anchor="middle">20.7</text>
<text x="561.1" y="530.32" font-size="10.9" text-anchor="middle">27.8</text>
<text x="588.5" y="530.32" font-size="10.9" text-anchor="middle">35.9</text>
<text x="615.9" y="530.32" font-size="10.9" text-anchor="middle" fill="#fff">50.8</text>
<text x="451.5" y="551.96" font-size="10.9" text-anchor="middle" fill="#fff">12.2</text>
<text x="478.9" y="551.96" font-size="10.9" text-anchor="middle">14.3</text>
<text x="506.3" y="551.96" font-size="10.9" text-anchor="middle">18.4</text>
<text x="533.7" y="551.96" font-size="10.9" text-anchor="middle">23.8</text>
<text x="561.1" y="551.96" font-size="10.9" text-anchor="middle">30.6</text>
<text x="588.5" y="551.96" font-size="10.9" text-anchor="middle">38.6</text>
<text x="615.9" y="551.96" font-size="10.9" text-anchor="middle" fill="#fff">53.4</text>
<text x="424.1" y="573.6" font-size="10.9" text-anchor="middle" fill="#fff">12.1</text>
<text x="451.5" y="573.6" font-size="10.9" text-anchor="middle" fill="#fff">13.5</text>
<text x="478.9" y="573.6" font-size="10.9" text-anchor="middle">16.8</text>
<text x="506.3" y="573.6" font-size="10.9" text-anchor="middle">21.5</text>
<text x="533.7" y="573.6" font-size="10.9" text-anchor="middle">26.7</text>
<text x="561.1" y="573.6" font-size="10.9" text-anchor="middle">33.3</text>
<text x="588.5" y="573.6" font-size="10.9" text-anchor="middle">40.9</text>
<text x="615.9" y="573.6" font-size="10.9" text-anchor="middle" fill="#fff">56.5</text>
<text x="396.7" y="595.24" font-size="10.9" text-anchor="middle" fill="#fff">12.1</text>
<text x="424.1" y="595.24" font-size="10.9" text-anchor="middle" fill="#fff">13.1</text>
<text x="451.5" y="595.24" font-size="10.9" text-anchor="middle">16.1</text>
<text x="478.9" y="595.24" font-size="10.9" text-anchor="middle">20.3</text>
<text x="506.3" y="595.24" font-size="10.9" text-anchor="middle">24.7</text>
<text x="533.7" y="595.24" font-size="10.9" text-anchor="middle">29.7</text>
<text x="561.1" y="595.24" font-size="10.9" text-anchor="middle">35.6</text>
<text x="588.5" y="595.24" font-size="10.9" text-anchor="middle" fill="#fff">43.7</text>
<text x="615.9" y="595.24" font-size="10.9" text-anchor="middle" fill="#fff">57.4</text>
<rect x="383" y="408.5" width="246.6" height="194.76" fill="none" stroke="#555" stroke-width="0.9" class="fr"/>
<line x1="396.7" y1="603.26" x2="396.7" y2="606.76" stroke="#222" stroke-width="0.8" />
<text x="396.7" y="622.72" font-size="10.9" text-anchor="middle" fill="#111" dominant-baseline="central" transform="rotate(-45 396.7 622.72)">10-19</text>
<line x1="424.1" y1="603.26" x2="424.1" y2="606.76" stroke="#222" stroke-width="0.8" />
<text x="424.1" y="622.72" font-size="10.9" text-anchor="middle" fill="#111" dominant-baseline="central" transform="rotate(-45 424.1 622.72)">20-29</text>
<line x1="451.5" y1="603.26" x2="451.5" y2="606.76" stroke="#222" stroke-width="0.8" />
<text x="451.5" y="622.72" font-size="10.9" text-anchor="middle" fill="#111" dominant-baseline="central" transform="rotate(-45 451.5 622.72)">30-39</text>
<line x1="478.9" y1="603.26" x2="478.9" y2="606.76" stroke="#222" stroke-width="0.8" />
<text x="478.9" y="622.72" font-size="10.9" text-anchor="middle" fill="#111" dominant-baseline="central" transform="rotate(-45 478.9 622.72)">40-49</text>
<line x1="506.3" y1="603.26" x2="506.3" y2="606.76" stroke="#222" stroke-width="0.8" />
<text x="506.3" y="622.72" font-size="10.9" text-anchor="middle" fill="#111" dominant-baseline="central" transform="rotate(-45 506.3 622.72)">50-59</text>
<line x1="533.7" y1="603.26" x2="533.7" y2="606.76" stroke="#222" stroke-width="0.8" />
<text x="533.7" y="622.72" font-size="10.9" text-anchor="middle" fill="#111" dominant-baseline="central" transform="rotate(-45 533.7 622.72)">60-69</text>
<line x1="561.1" y1="603.26" x2="561.1" y2="606.76" stroke="#222" stroke-width="0.8" />
<text x="561.1" y="622.72" font-size="10.9" text-anchor="middle" fill="#111" dominant-baseline="central" transform="rotate(-45 561.1 622.72)">70-79</text>
<line x1="588.5" y1="603.26" x2="588.5" y2="606.76" stroke="#222" stroke-width="0.8" />
<text x="588.5" y="622.72" font-size="10.9" text-anchor="middle" fill="#111" dominant-baseline="central" transform="rotate(-45 588.5 622.72)">80-89</text>
<line x1="615.9" y1="603.26" x2="615.9" y2="606.76" stroke="#222" stroke-width="0.8" />
<text x="615.9" y="620.03" font-size="10.9" text-anchor="middle" fill="#111" dominant-baseline="central" transform="rotate(-45 615.9 620.03)">≥90</text>
<text x="506.3" y="649.6" font-size="11.2" text-anchor="middle" fill="#111">Stopping SoC (%)</text>
<line x1="75.8" y1="419.32" x2="79.3" y2="419.32" stroke="#222" stroke-width="0.8" />
<text x="71.8" y="423.22" font-size="10.9" text-anchor="end" fill="#111">80-89</text>
<line x1="75.8" y1="440.96" x2="79.3" y2="440.96" stroke="#222" stroke-width="0.8" />
<text x="71.8" y="444.86" font-size="10.9" text-anchor="end" fill="#111">70-79</text>
<line x1="75.8" y1="462.6" x2="79.3" y2="462.6" stroke="#222" stroke-width="0.8" />
<text x="71.8" y="466.5" font-size="10.9" text-anchor="end" fill="#111">60-69</text>
<line x1="75.8" y1="484.24" x2="79.3" y2="484.24" stroke="#222" stroke-width="0.8" />
<text x="71.8" y="488.14" font-size="10.9" text-anchor="end" fill="#111">50-59</text>
<line x1="75.8" y1="505.88" x2="79.3" y2="505.88" stroke="#222" stroke-width="0.8" />
<text x="71.8" y="509.78" font-size="10.9" text-anchor="end" fill="#111">40-49</text>
<line x1="75.8" y1="527.52" x2="79.3" y2="527.52" stroke="#222" stroke-width="0.8" />
<text x="71.8" y="531.42" font-size="10.9" text-anchor="end" fill="#111">30-39</text>
<line x1="75.8" y1="549.16" x2="79.3" y2="549.16" stroke="#222" stroke-width="0.8" />
<text x="71.8" y="553.06" font-size="10.9" text-anchor="end" fill="#111">20-29</text>
<line x1="75.8" y1="570.8" x2="79.3" y2="570.8" stroke="#222" stroke-width="0.8" />
<text x="71.8" y="574.7" font-size="10.9" text-anchor="end" fill="#111">10-19</text>
<line x1="75.8" y1="592.44" x2="79.3" y2="592.44" stroke="#222" stroke-width="0.8" />
<text x="71.8" y="596.34" font-size="10.9" text-anchor="end" fill="#111">&lt;10</text>
<text x="37.3" y="505.88" font-size="11.2" text-anchor="middle" fill="#111" transform="rotate(-90 37.3 505.88)">Starting SoC (%)</text>
<rect x="327.9" y="408.5" width="9.8" height="194.76" fill="url(#cb1)" stroke="#222" stroke-width="0.8"/>
<line x1="337.7" y1="572.8" x2="340.5" y2="572.8" stroke="#222" stroke-width="0.7" />
<text x="343.2" y="575.2" font-size="6.8" fill="#111">1</text>
<line x1="337.7" y1="539.25" x2="340.5" y2="539.25" stroke="#222" stroke-width="0.7" />
<text x="343.2" y="541.65" font-size="6.8" fill="#111">2</text>
<line x1="337.7" y1="505.7" x2="340.5" y2="505.7" stroke="#222" stroke-width="0.7" />
<text x="343.2" y="508.1" font-size="6.8" fill="#111">3</text>
<line x1="337.7" y1="472.15" x2="340.5" y2="472.15" stroke="#222" stroke-width="0.7" />
<text x="343.2" y="474.55" font-size="6.8" fill="#111">4</text>
<line x1="337.7" y1="438.6" x2="340.5" y2="438.6" stroke="#222" stroke-width="0.7" />
<text x="343.2" y="441" font-size="6.8" fill="#111">5</text>
<text x="360.3" y="505.88" font-size="11.2" text-anchor="middle" fill="#111" transform="rotate(-90 360.3 505.88)">Percentage of sessions (%)</text>
<rect x="632.2" y="408.5" width="10" height="194.76" fill="url(#cb2)" stroke="#222" stroke-width="0.8"/>
<line x1="642.2" y1="569.06" x2="645.5" y2="569.06" stroke="#222" stroke-width="0.8" />
<text x="647.6" y="572.46" font-size="9.6" fill="#111">20</text>
<line x1="642.2" y1="526.11" x2="645.5" y2="526.11" stroke="#222" stroke-width="0.8" />
<text x="647.6" y="529.51" font-size="9.6" fill="#111">30</text>
<line x1="642.2" y1="483.15" x2="645.5" y2="483.15" stroke="#222" stroke-width="0.8" />
<text x="647.6" y="486.55" font-size="9.6" fill="#111">40</text>
<line x1="642.2" y1="440.19" x2="645.5" y2="440.19" stroke="#222" stroke-width="0.8" />
<text x="647.6" y="443.59" font-size="9.6" fill="#111">50</text>
<text x="669.3" y="505.88" font-size="11.2" text-anchor="middle" fill="#111" transform="rotate(-90 669.3 505.88)">Mean session duration</text>
<text x="680.4" y="505.88" font-size="11.2" text-anchor="middle" fill="#111" transform="rotate(-90 680.4 505.88)">(minutes)</text>
<text x="2" y="417.6" font-size="17.8" font-weight="bold" stroke="#000" stroke-width="0.45">e</text>
</svg>
</body></html>
